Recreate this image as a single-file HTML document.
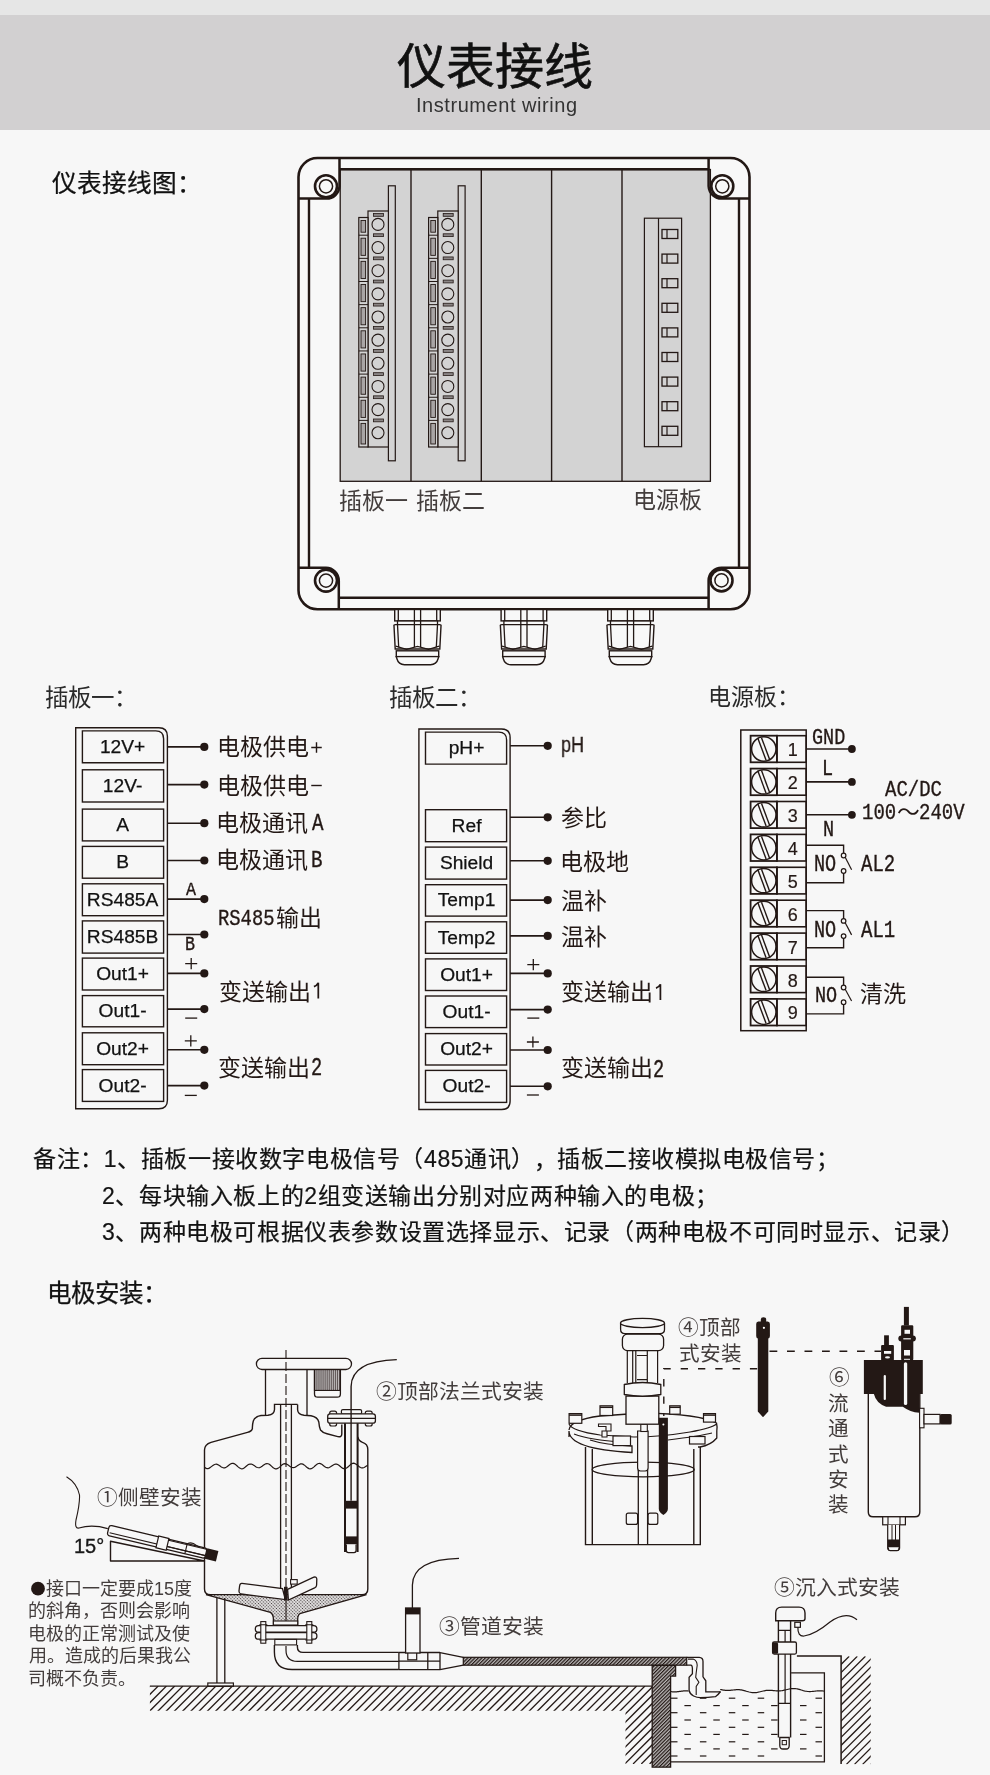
<!DOCTYPE html>
<html lang="zh-CN"><head><meta charset="utf-8"><title>仪表接线</title>
<style>
html,body{margin:0;padding:0;}
body{width:990px;height:1775px;overflow:hidden;position:relative;background:#f7f7f7;font-family:"Liberation Sans",sans-serif;}
.t{position:absolute;white-space:nowrap;line-height:1;will-change:transform;}
.c{text-align:center;}
#hd0{position:absolute;left:0;top:0;width:990px;height:15px;background:#e6e6e6;}
#hd1{position:absolute;left:0;top:15px;width:990px;height:115px;background:#d2d0d1;}
svg{position:absolute;left:0;top:0;}
</style></head><body>
<div id="hd0"></div><div id="hd1"></div>
<svg width="990" height="1775" viewBox="0 0 990 1775">
<defs>
<pattern id="dots" width="2.3" height="2.3" patternUnits="userSpaceOnUse" patternTransform="rotate(45)"><rect width="2.3" height="2.3" fill="#e4e2e2"/><circle cx="1.15" cy="1.15" r="0.66" fill="#3a3333"/></pattern>
<pattern id="phatch" width="2.5" height="2.5" patternUnits="userSpaceOnUse" patternTransform="rotate(45)"><rect width="2.5" height="2.5" fill="#b9b6b6"/><line x1="0.6" y1="0" x2="0.6" y2="2.5" stroke="#231815" stroke-width="1.2"/></pattern>
<clipPath id="cg"><path d="M149.9,1686.1 H652.2 V1763.9 H625.5 V1710.8 H149.9 Z"/></clipPath>
<clipPath id="cr"><rect x="841.1" y="1656.3" width="29.6" height="108"/></clipPath>

</defs>
<rect x="298.5" y="158" width="451" height="451.3" rx="19" fill="#f8f8f8" stroke="#231815" stroke-width="2.6"/>
<rect x="340.2" y="169.5" width="370.2" height="311.8" fill="#d3d3d3" stroke="#231815" stroke-width="1.3"/>
<line x1="411" y1="169.5" x2="411" y2="481.3" stroke="#231815" stroke-width="1.4"/>
<line x1="481.3" y1="169.5" x2="481.3" y2="481.3" stroke="#231815" stroke-width="1.4"/>
<line x1="551.6" y1="169.5" x2="551.6" y2="481.3" stroke="#231815" stroke-width="1.4"/>
<line x1="622" y1="169.5" x2="622" y2="481.3" stroke="#231815" stroke-width="1.4"/>
<line x1="339.5" y1="169.2" x2="708.5" y2="169.2" stroke="#231815" stroke-width="2.6"/>
<line x1="338.8" y1="597.8" x2="708.5" y2="597.8" stroke="#231815" stroke-width="2.6"/>
<line x1="309" y1="198.6" x2="309" y2="567.6" stroke="#231815" stroke-width="2.4"/>
<line x1="739" y1="198.6" x2="739" y2="567.6" stroke="#231815" stroke-width="2.4"/>
<path d="M339.5,158 L339.5,186.3 A13,13 0 0 1 326,198.6 L298.5,198.6" fill="none" stroke="#231815" stroke-width="2.5"/>
<circle cx="326" cy="186.3" r="11" fill="#f8f8f8" stroke="#231815" stroke-width="2.6"/>
<circle cx="326" cy="186.3" r="6.6" fill="#f8f8f8" stroke="#231815" stroke-width="1.5"/>
<path d="M708.6,158 L708.6,186.3 A13,13 0 0 0 722.3,198.6 L749.5,198.6" fill="none" stroke="#231815" stroke-width="2.5"/>
<circle cx="722.3" cy="186.3" r="11" fill="#f8f8f8" stroke="#231815" stroke-width="2.6"/>
<circle cx="722.3" cy="186.3" r="6.6" fill="#f8f8f8" stroke="#231815" stroke-width="1.5"/>
<path d="M338.8,609.3 L338.8,580.6 A13,13 0 0 0 326,567.7 L298.5,567.7" fill="none" stroke="#231815" stroke-width="2.5"/>
<circle cx="326" cy="580.6" r="11" fill="#f8f8f8" stroke="#231815" stroke-width="2.6"/>
<circle cx="326" cy="580.6" r="6.6" fill="#f8f8f8" stroke="#231815" stroke-width="1.5"/>
<path d="M708.6,609.3 L708.6,580.4 A13,13 0 0 1 721.5,567.7 L749.5,567.7" fill="none" stroke="#231815" stroke-width="2.5"/>
<circle cx="721.5" cy="580.4" r="11" fill="#f8f8f8" stroke="#231815" stroke-width="2.6"/>
<circle cx="721.5" cy="580.4" r="6.6" fill="#f8f8f8" stroke="#231815" stroke-width="1.5"/>
<rect x="388.4" y="185.8" width="6.9" height="275" fill="#d3d3d3" stroke="#231815" stroke-width="1.2"/>
<rect x="368" y="211" width="20.4" height="236" fill="#d3d3d3" stroke="#231815" stroke-width="1.2"/>
<rect x="358.8" y="217.5" width="9.2" height="229.5" fill="#d3d3d3" stroke="#231815" stroke-width="1.2"/>
<circle cx="378" cy="224.40" r="6" fill="none" stroke="#231815" stroke-width="1.1"/>
<rect x="373.4" y="213.50" width="10" height="2.8" fill="#8a8585" stroke="#231815" stroke-width="0.8"/>
<rect x="361.0" y="220.50" width="4.6" height="11.70" fill="#a9a5a5" stroke="#231815" stroke-width="0.9"/>
<circle cx="378" cy="247.55" r="6" fill="none" stroke="#231815" stroke-width="1.1"/>
<rect x="373.4" y="233.80" width="10" height="2.8" fill="#8a8585" stroke="#231815" stroke-width="0.8"/>
<line x1="358.8" y1="235.20" x2="368.0" y2="235.20" stroke="#231815" stroke-width="1"/>
<rect x="361.0" y="238.20" width="4.6" height="17.15" fill="#a9a5a5" stroke="#231815" stroke-width="0.9"/>
<circle cx="378" cy="270.70" r="6" fill="none" stroke="#231815" stroke-width="1.1"/>
<rect x="373.4" y="256.95" width="10" height="2.8" fill="#8a8585" stroke="#231815" stroke-width="0.8"/>
<line x1="358.8" y1="258.35" x2="368.0" y2="258.35" stroke="#231815" stroke-width="1"/>
<rect x="361.0" y="261.35" width="4.6" height="17.15" fill="#a9a5a5" stroke="#231815" stroke-width="0.9"/>
<circle cx="378" cy="293.85" r="6" fill="none" stroke="#231815" stroke-width="1.1"/>
<rect x="373.4" y="280.10" width="10" height="2.8" fill="#8a8585" stroke="#231815" stroke-width="0.8"/>
<line x1="358.8" y1="281.50" x2="368.0" y2="281.50" stroke="#231815" stroke-width="1"/>
<rect x="361.0" y="284.50" width="4.6" height="17.15" fill="#a9a5a5" stroke="#231815" stroke-width="0.9"/>
<circle cx="378" cy="317.00" r="6" fill="none" stroke="#231815" stroke-width="1.1"/>
<rect x="373.4" y="303.25" width="10" height="2.8" fill="#8a8585" stroke="#231815" stroke-width="0.8"/>
<line x1="358.8" y1="304.65" x2="368.0" y2="304.65" stroke="#231815" stroke-width="1"/>
<rect x="361.0" y="307.65" width="4.6" height="17.15" fill="#a9a5a5" stroke="#231815" stroke-width="0.9"/>
<circle cx="378" cy="340.15" r="6" fill="none" stroke="#231815" stroke-width="1.1"/>
<rect x="373.4" y="326.40" width="10" height="2.8" fill="#8a8585" stroke="#231815" stroke-width="0.8"/>
<line x1="358.8" y1="327.80" x2="368.0" y2="327.80" stroke="#231815" stroke-width="1"/>
<rect x="361.0" y="330.80" width="4.6" height="17.15" fill="#a9a5a5" stroke="#231815" stroke-width="0.9"/>
<circle cx="378" cy="363.30" r="6" fill="none" stroke="#231815" stroke-width="1.1"/>
<rect x="373.4" y="349.55" width="10" height="2.8" fill="#8a8585" stroke="#231815" stroke-width="0.8"/>
<line x1="358.8" y1="350.95" x2="368.0" y2="350.95" stroke="#231815" stroke-width="1"/>
<rect x="361.0" y="353.95" width="4.6" height="17.15" fill="#a9a5a5" stroke="#231815" stroke-width="0.9"/>
<circle cx="378" cy="386.45" r="6" fill="none" stroke="#231815" stroke-width="1.1"/>
<rect x="373.4" y="372.70" width="10" height="2.8" fill="#8a8585" stroke="#231815" stroke-width="0.8"/>
<line x1="358.8" y1="374.10" x2="368.0" y2="374.10" stroke="#231815" stroke-width="1"/>
<rect x="361.0" y="377.10" width="4.6" height="17.15" fill="#a9a5a5" stroke="#231815" stroke-width="0.9"/>
<circle cx="378" cy="409.60" r="6" fill="none" stroke="#231815" stroke-width="1.1"/>
<rect x="373.4" y="395.85" width="10" height="2.8" fill="#8a8585" stroke="#231815" stroke-width="0.8"/>
<line x1="358.8" y1="397.25" x2="368.0" y2="397.25" stroke="#231815" stroke-width="1"/>
<rect x="361.0" y="400.25" width="4.6" height="17.15" fill="#a9a5a5" stroke="#231815" stroke-width="0.9"/>
<circle cx="378" cy="432.75" r="6" fill="none" stroke="#231815" stroke-width="1.1"/>
<rect x="373.4" y="419.00" width="10" height="2.8" fill="#8a8585" stroke="#231815" stroke-width="0.8"/>
<line x1="358.8" y1="420.40" x2="368.0" y2="420.40" stroke="#231815" stroke-width="1"/>
<rect x="361.0" y="423.40" width="4.6" height="20.60" fill="#a9a5a5" stroke="#231815" stroke-width="0.9"/>
<rect x="458.2" y="185.8" width="6.9" height="275" fill="#d3d3d3" stroke="#231815" stroke-width="1.2"/>
<rect x="437.8" y="211" width="20.4" height="236" fill="#d3d3d3" stroke="#231815" stroke-width="1.2"/>
<rect x="428.6" y="217.5" width="9.2" height="229.5" fill="#d3d3d3" stroke="#231815" stroke-width="1.2"/>
<circle cx="447.8" cy="224.40" r="6" fill="none" stroke="#231815" stroke-width="1.1"/>
<rect x="443.2" y="213.50" width="10" height="2.8" fill="#8a8585" stroke="#231815" stroke-width="0.8"/>
<rect x="430.8" y="220.50" width="4.6" height="11.70" fill="#a9a5a5" stroke="#231815" stroke-width="0.9"/>
<circle cx="447.8" cy="247.55" r="6" fill="none" stroke="#231815" stroke-width="1.1"/>
<rect x="443.2" y="233.80" width="10" height="2.8" fill="#8a8585" stroke="#231815" stroke-width="0.8"/>
<line x1="428.6" y1="235.20" x2="437.8" y2="235.20" stroke="#231815" stroke-width="1"/>
<rect x="430.8" y="238.20" width="4.6" height="17.15" fill="#a9a5a5" stroke="#231815" stroke-width="0.9"/>
<circle cx="447.8" cy="270.70" r="6" fill="none" stroke="#231815" stroke-width="1.1"/>
<rect x="443.2" y="256.95" width="10" height="2.8" fill="#8a8585" stroke="#231815" stroke-width="0.8"/>
<line x1="428.6" y1="258.35" x2="437.8" y2="258.35" stroke="#231815" stroke-width="1"/>
<rect x="430.8" y="261.35" width="4.6" height="17.15" fill="#a9a5a5" stroke="#231815" stroke-width="0.9"/>
<circle cx="447.8" cy="293.85" r="6" fill="none" stroke="#231815" stroke-width="1.1"/>
<rect x="443.2" y="280.10" width="10" height="2.8" fill="#8a8585" stroke="#231815" stroke-width="0.8"/>
<line x1="428.6" y1="281.50" x2="437.8" y2="281.50" stroke="#231815" stroke-width="1"/>
<rect x="430.8" y="284.50" width="4.6" height="17.15" fill="#a9a5a5" stroke="#231815" stroke-width="0.9"/>
<circle cx="447.8" cy="317.00" r="6" fill="none" stroke="#231815" stroke-width="1.1"/>
<rect x="443.2" y="303.25" width="10" height="2.8" fill="#8a8585" stroke="#231815" stroke-width="0.8"/>
<line x1="428.6" y1="304.65" x2="437.8" y2="304.65" stroke="#231815" stroke-width="1"/>
<rect x="430.8" y="307.65" width="4.6" height="17.15" fill="#a9a5a5" stroke="#231815" stroke-width="0.9"/>
<circle cx="447.8" cy="340.15" r="6" fill="none" stroke="#231815" stroke-width="1.1"/>
<rect x="443.2" y="326.40" width="10" height="2.8" fill="#8a8585" stroke="#231815" stroke-width="0.8"/>
<line x1="428.6" y1="327.80" x2="437.8" y2="327.80" stroke="#231815" stroke-width="1"/>
<rect x="430.8" y="330.80" width="4.6" height="17.15" fill="#a9a5a5" stroke="#231815" stroke-width="0.9"/>
<circle cx="447.8" cy="363.30" r="6" fill="none" stroke="#231815" stroke-width="1.1"/>
<rect x="443.2" y="349.55" width="10" height="2.8" fill="#8a8585" stroke="#231815" stroke-width="0.8"/>
<line x1="428.6" y1="350.95" x2="437.8" y2="350.95" stroke="#231815" stroke-width="1"/>
<rect x="430.8" y="353.95" width="4.6" height="17.15" fill="#a9a5a5" stroke="#231815" stroke-width="0.9"/>
<circle cx="447.8" cy="386.45" r="6" fill="none" stroke="#231815" stroke-width="1.1"/>
<rect x="443.2" y="372.70" width="10" height="2.8" fill="#8a8585" stroke="#231815" stroke-width="0.8"/>
<line x1="428.6" y1="374.10" x2="437.8" y2="374.10" stroke="#231815" stroke-width="1"/>
<rect x="430.8" y="377.10" width="4.6" height="17.15" fill="#a9a5a5" stroke="#231815" stroke-width="0.9"/>
<circle cx="447.8" cy="409.60" r="6" fill="none" stroke="#231815" stroke-width="1.1"/>
<rect x="443.2" y="395.85" width="10" height="2.8" fill="#8a8585" stroke="#231815" stroke-width="0.8"/>
<line x1="428.6" y1="397.25" x2="437.8" y2="397.25" stroke="#231815" stroke-width="1"/>
<rect x="430.8" y="400.25" width="4.6" height="17.15" fill="#a9a5a5" stroke="#231815" stroke-width="0.9"/>
<circle cx="447.8" cy="432.75" r="6" fill="none" stroke="#231815" stroke-width="1.1"/>
<rect x="443.2" y="419.00" width="10" height="2.8" fill="#8a8585" stroke="#231815" stroke-width="0.8"/>
<line x1="428.6" y1="420.40" x2="437.8" y2="420.40" stroke="#231815" stroke-width="1"/>
<rect x="430.8" y="423.40" width="4.6" height="20.60" fill="#a9a5a5" stroke="#231815" stroke-width="0.9"/>
<rect x="644.4" y="218.2" width="37.2" height="228.5" fill="#d3d3d3" stroke="#231815" stroke-width="1.2"/>
<line x1="658.5" y1="218.2" x2="658.5" y2="446.7" stroke="#231815" stroke-width="1.2"/>
<rect x="662" y="229.50" width="15.8" height="9" fill="none" stroke="#231815" stroke-width="1.3"/>
<line x1="667" y1="229.50" x2="667" y2="238.50" stroke="#231815" stroke-width="1.2"/>
<rect x="662" y="254.10" width="15.8" height="9" fill="none" stroke="#231815" stroke-width="1.3"/>
<line x1="667" y1="254.10" x2="667" y2="263.10" stroke="#231815" stroke-width="1.2"/>
<rect x="662" y="278.70" width="15.8" height="9" fill="none" stroke="#231815" stroke-width="1.3"/>
<line x1="667" y1="278.70" x2="667" y2="287.70" stroke="#231815" stroke-width="1.2"/>
<rect x="662" y="303.30" width="15.8" height="9" fill="none" stroke="#231815" stroke-width="1.3"/>
<line x1="667" y1="303.30" x2="667" y2="312.30" stroke="#231815" stroke-width="1.2"/>
<rect x="662" y="327.90" width="15.8" height="9" fill="none" stroke="#231815" stroke-width="1.3"/>
<line x1="667" y1="327.90" x2="667" y2="336.90" stroke="#231815" stroke-width="1.2"/>
<rect x="662" y="352.50" width="15.8" height="9" fill="none" stroke="#231815" stroke-width="1.3"/>
<line x1="667" y1="352.50" x2="667" y2="361.50" stroke="#231815" stroke-width="1.2"/>
<rect x="662" y="377.10" width="15.8" height="9" fill="none" stroke="#231815" stroke-width="1.3"/>
<line x1="667" y1="377.10" x2="667" y2="386.10" stroke="#231815" stroke-width="1.2"/>
<rect x="662" y="401.70" width="15.8" height="9" fill="none" stroke="#231815" stroke-width="1.3"/>
<line x1="667" y1="401.70" x2="667" y2="410.70" stroke="#231815" stroke-width="1.2"/>
<rect x="662" y="426.30" width="15.8" height="9" fill="none" stroke="#231815" stroke-width="1.3"/>
<line x1="667" y1="426.30" x2="667" y2="435.30" stroke="#231815" stroke-width="1.2"/>
<rect x="394.7" y="609.5" width="45.6" height="11.4" stroke="#231815" fill="#f8f8f8" stroke-width="1.4"/>
<line x1="398.3" y1="609.5" x2="398.3" y2="621" stroke="#231815" stroke-width="1.3"/>
<line x1="414.4" y1="609.5" x2="414.4" y2="621" stroke="#231815" stroke-width="1.3"/>
<line x1="420.6" y1="609.5" x2="420.6" y2="621" stroke="#231815" stroke-width="1.3"/>
<line x1="436.7" y1="609.5" x2="436.7" y2="621" stroke="#231815" stroke-width="1.3"/>
<rect x="397.5" y="621" width="40" height="3.8" stroke="#231815" fill="#f8f8f8" stroke-width="1.3"/>
<path d="M394.0,626 Q393.5,624.6 395.5,624.6 L439.5,624.6 Q441.5,624.6 441.0,626 L439.8,649 L395.2,649 Z" stroke="#231815" fill="#f8f8f8" stroke-width="1.4"/>
<path d="M397.5,624.6 L398.7,647.5 M437.5,624.6 L436.3,647.5 M414.4,621 L414.4,647 M420.6,621 L420.6,647" stroke="#231815" stroke-width="1.3" fill="none"/>
<path d="M395.7,646.2 L406.5,649.4 L417.5,646.4 L428.5,649.4 L439.3,646.2" stroke="#231815" stroke-width="1.2" fill="none"/>
<rect x="396.3" y="650.8" width="42.4" height="5.8" stroke="#231815" fill="#f8f8f8" stroke-width="1.4"/>
<path d="M396.3,656.6 L438.7,656.6 L438.0,659 Q436.5,664.5 430.5,664.8 L404.5,664.8 Q398.5,664.5 397.0,659 Z" stroke="#231815" fill="#f8f8f8" stroke-width="1.4"/>
<rect x="501.09999999999997" y="609.5" width="45.6" height="11.4" stroke="#231815" fill="#f8f8f8" stroke-width="1.4"/>
<line x1="504.7" y1="609.5" x2="504.7" y2="621" stroke="#231815" stroke-width="1.3"/>
<line x1="520.8" y1="609.5" x2="520.8" y2="621" stroke="#231815" stroke-width="1.3"/>
<line x1="527.0" y1="609.5" x2="527.0" y2="621" stroke="#231815" stroke-width="1.3"/>
<line x1="543.1" y1="609.5" x2="543.1" y2="621" stroke="#231815" stroke-width="1.3"/>
<rect x="503.9" y="621" width="40" height="3.8" stroke="#231815" fill="#f8f8f8" stroke-width="1.3"/>
<path d="M500.4,626 Q499.9,624.6 501.9,624.6 L545.9,624.6 Q547.9,624.6 547.4,626 L546.1999999999999,649 L501.59999999999997,649 Z" stroke="#231815" fill="#f8f8f8" stroke-width="1.4"/>
<path d="M503.9,624.6 L505.09999999999997,647.5 M543.9,624.6 L542.6999999999999,647.5 M520.8,621 L520.8,647 M527.0,621 L527.0,647" stroke="#231815" stroke-width="1.3" fill="none"/>
<path d="M502.09999999999997,646.2 L512.9,649.4 L523.9,646.4 L534.9,649.4 L545.6999999999999,646.2" stroke="#231815" stroke-width="1.2" fill="none"/>
<rect x="502.7" y="650.8" width="42.4" height="5.8" stroke="#231815" fill="#f8f8f8" stroke-width="1.4"/>
<path d="M502.7,656.6 L545.1,656.6 L544.4,659 Q542.9,664.5 536.9,664.8 L510.9,664.8 Q504.9,664.5 503.4,659 Z" stroke="#231815" fill="#f8f8f8" stroke-width="1.4"/>
<rect x="607.7" y="609.5" width="45.6" height="11.4" stroke="#231815" fill="#f8f8f8" stroke-width="1.4"/>
<line x1="611.3" y1="609.5" x2="611.3" y2="621" stroke="#231815" stroke-width="1.3"/>
<line x1="627.4" y1="609.5" x2="627.4" y2="621" stroke="#231815" stroke-width="1.3"/>
<line x1="633.6" y1="609.5" x2="633.6" y2="621" stroke="#231815" stroke-width="1.3"/>
<line x1="649.7" y1="609.5" x2="649.7" y2="621" stroke="#231815" stroke-width="1.3"/>
<rect x="610.5" y="621" width="40" height="3.8" stroke="#231815" fill="#f8f8f8" stroke-width="1.3"/>
<path d="M607.0,626 Q606.5,624.6 608.5,624.6 L652.5,624.6 Q654.5,624.6 654.0,626 L652.8,649 L608.2,649 Z" stroke="#231815" fill="#f8f8f8" stroke-width="1.4"/>
<path d="M610.5,624.6 L611.7,647.5 M650.5,624.6 L649.3,647.5 M627.4,621 L627.4,647 M633.6,621 L633.6,647" stroke="#231815" stroke-width="1.3" fill="none"/>
<path d="M608.7,646.2 L619.5,649.4 L630.5,646.4 L641.5,649.4 L652.3,646.2" stroke="#231815" stroke-width="1.2" fill="none"/>
<rect x="609.3" y="650.8" width="42.4" height="5.8" stroke="#231815" fill="#f8f8f8" stroke-width="1.4"/>
<path d="M609.3,656.6 L651.7,656.6 L651.0,659 Q649.5,664.5 643.5,664.8 L617.5,664.8 Q611.5,664.5 610.0,659 Z" stroke="#231815" fill="#f8f8f8" stroke-width="1.4"/>
<path d="M75.7,727.8 L158.9,727.8 Q167.4,727.8 167.4,736.3 L167.4,1100.3 Q167.4,1108.8 158.9,1108.8 L75.7,1108.8 Z" fill="none" stroke="#231815" stroke-width="1.4"/>
<path d="M82.4,730.9 L155.79999999999998,730.9 Q163.6,730.9 163.6,738.6999999999999 L163.6,762.7 L82.4,762.7 Z" fill="none" stroke="#231815" stroke-width="1.4"/>
<rect x="82.4" y="769.8" width="81.2" height="32.2" fill="none" stroke="#231815" stroke-width="1.4"/>
<rect x="82.4" y="809.1" width="81.2" height="31.8" fill="none" stroke="#231815" stroke-width="1.4"/>
<rect x="82.4" y="846.4" width="81.2" height="31.8" fill="none" stroke="#231815" stroke-width="1.4"/>
<rect x="82.4" y="883.8" width="81.2" height="31.9" fill="none" stroke="#231815" stroke-width="1.4"/>
<rect x="82.4" y="920.9" width="81.2" height="32.2" fill="none" stroke="#231815" stroke-width="1.4"/>
<rect x="82.4" y="958.1" width="81.2" height="31.9" fill="none" stroke="#231815" stroke-width="1.4"/>
<rect x="82.4" y="995.6" width="81.2" height="31.2" fill="none" stroke="#231815" stroke-width="1.4"/>
<rect x="82.4" y="1032.8" width="81.2" height="31.9" fill="none" stroke="#231815" stroke-width="1.4"/>
<rect x="82.4" y="1069.6" width="81.2" height="31.8" fill="none" stroke="#231815" stroke-width="1.4"/>
<line x1="167.4" y1="746.9" x2="204.3" y2="746.9" stroke="#231815" stroke-width="1.6"/>
<circle cx="204.3" cy="746.9" r="4.1" fill="#231815"/>
<line x1="167.4" y1="784.6" x2="204.3" y2="784.6" stroke="#231815" stroke-width="1.6"/>
<circle cx="204.3" cy="784.6" r="4.1" fill="#231815"/>
<line x1="167.4" y1="823.2" x2="204.3" y2="823.2" stroke="#231815" stroke-width="1.6"/>
<circle cx="204.3" cy="823.2" r="4.1" fill="#231815"/>
<line x1="167.4" y1="860.5" x2="204.3" y2="860.5" stroke="#231815" stroke-width="1.6"/>
<circle cx="204.3" cy="860.5" r="4.1" fill="#231815"/>
<line x1="167.4" y1="899.1" x2="204.3" y2="899.1" stroke="#231815" stroke-width="1.6"/>
<circle cx="204.3" cy="899.1" r="4.1" fill="#231815"/>
<line x1="167.4" y1="934.5" x2="204.3" y2="934.5" stroke="#231815" stroke-width="1.6"/>
<circle cx="204.3" cy="934.5" r="4.1" fill="#231815"/>
<line x1="167.4" y1="973.4" x2="204.3" y2="973.4" stroke="#231815" stroke-width="1.6"/>
<circle cx="204.3" cy="973.4" r="4.1" fill="#231815"/>
<line x1="167.4" y1="1009.1" x2="204.3" y2="1009.1" stroke="#231815" stroke-width="1.6"/>
<circle cx="204.3" cy="1009.1" r="4.1" fill="#231815"/>
<line x1="167.4" y1="1049.8" x2="204.3" y2="1049.8" stroke="#231815" stroke-width="1.6"/>
<circle cx="204.3" cy="1049.8" r="4.1" fill="#231815"/>
<line x1="167.4" y1="1085.6" x2="204.3" y2="1085.6" stroke="#231815" stroke-width="1.6"/>
<circle cx="204.3" cy="1085.6" r="4.1" fill="#231815"/>
<path d="M418.9,729 L501.6,729 Q510.1,729 510.1,737.5 L510.1,1101.0 Q510.1,1109.5 501.6,1109.5 L418.9,1109.5 Z" fill="none" stroke="#231815" stroke-width="1.4"/>
<path d="M425.5,732.1 L498.8,732.1 Q506.6,732.1 506.6,739.9 L506.6,764.1 L425.5,764.1 Z" fill="none" stroke="#231815" stroke-width="1.4"/>
<rect x="425.5" y="809.7" width="81.1" height="32.0" fill="none" stroke="#231815" stroke-width="1.4"/>
<rect x="425.5" y="847.1" width="81.1" height="32.0" fill="none" stroke="#231815" stroke-width="1.4"/>
<rect x="425.5" y="884.7" width="81.1" height="31.4" fill="none" stroke="#231815" stroke-width="1.4"/>
<rect x="425.5" y="921.8" width="81.1" height="31.5" fill="none" stroke="#231815" stroke-width="1.4"/>
<rect x="425.5" y="958.9" width="81.1" height="31.6" fill="none" stroke="#231815" stroke-width="1.4"/>
<rect x="425.5" y="996" width="81.1" height="31.6" fill="none" stroke="#231815" stroke-width="1.4"/>
<rect x="425.5" y="1033.6" width="81.1" height="31.4" fill="none" stroke="#231815" stroke-width="1.4"/>
<rect x="425.5" y="1070.4" width="81.1" height="32.0" fill="none" stroke="#231815" stroke-width="1.4"/>
<line x1="510.1" y1="745.8" x2="547.7" y2="745.8" stroke="#231815" stroke-width="1.6"/>
<circle cx="547.7" cy="745.8" r="4.1" fill="#231815"/>
<line x1="510.1" y1="817.3" x2="547.7" y2="817.3" stroke="#231815" stroke-width="1.6"/>
<circle cx="547.7" cy="817.3" r="4.1" fill="#231815"/>
<line x1="510.1" y1="860.8" x2="547.7" y2="860.8" stroke="#231815" stroke-width="1.6"/>
<circle cx="547.7" cy="860.8" r="4.1" fill="#231815"/>
<line x1="510.1" y1="900.1" x2="547.7" y2="900.1" stroke="#231815" stroke-width="1.6"/>
<circle cx="547.7" cy="900.1" r="4.1" fill="#231815"/>
<line x1="510.1" y1="935.9" x2="547.7" y2="935.9" stroke="#231815" stroke-width="1.6"/>
<circle cx="547.7" cy="935.9" r="4.1" fill="#231815"/>
<line x1="510.1" y1="973.4" x2="547.7" y2="973.4" stroke="#231815" stroke-width="1.6"/>
<circle cx="547.7" cy="973.4" r="4.1" fill="#231815"/>
<line x1="510.1" y1="1009.6" x2="547.7" y2="1009.6" stroke="#231815" stroke-width="1.6"/>
<circle cx="547.7" cy="1009.6" r="4.1" fill="#231815"/>
<line x1="510.1" y1="1050" x2="547.7" y2="1050" stroke="#231815" stroke-width="1.6"/>
<circle cx="547.7" cy="1050" r="4.1" fill="#231815"/>
<line x1="510.1" y1="1086.3" x2="547.7" y2="1086.3" stroke="#231815" stroke-width="1.6"/>
<circle cx="547.7" cy="1086.3" r="4.1" fill="#231815"/>
<path d="M318.3,998.6 V982.8 Q316.8,985.6 313.9,986.6" fill="none" stroke="#231815" stroke-width="1.75"/>
<path d="M311.25,747.5 H321.75 M316.5,742.25 V752.75" stroke="#231815" stroke-width="1.4" fill="none"/>
<path d="M311.25,785.5 H321.75" stroke="#231815" stroke-width="1.4" fill="none"/>
<path d="M185.2,963.6 H197.2 M191.2,958.0 V969.2" stroke="#231815" stroke-width="1.3" fill="none"/>
<path d="M185.2,1018.1 H197.2" stroke="#231815" stroke-width="1.3" fill="none"/>
<path d="M184.79999999999998,1040.9 H196.79999999999998 M190.79999999999998,1035.3000000000002 V1046.5" stroke="#231815" stroke-width="1.3" fill="none"/>
<path d="M184.79999999999998,1095.4 H196.79999999999998" stroke="#231815" stroke-width="1.3" fill="none"/>
<path d="M527.3,964.6 H539.3 M533.3,959.0 V970.2" stroke="#231815" stroke-width="1.3" fill="none"/>
<path d="M527.3,1018.1 H539.3" stroke="#231815" stroke-width="1.3" fill="none"/>
<path d="M526.9,1042 H538.9 M532.9,1036.4 V1047.6" stroke="#231815" stroke-width="1.3" fill="none"/>
<path d="M526.9,1095 H538.9" stroke="#231815" stroke-width="1.3" fill="none"/>
<path d="M660.4,1000.1 V984.3 Q658.9,987.1 656,988.1" fill="none" stroke="#231815" stroke-width="1.75"/>
<rect x="740.8" y="730" width="65.4" height="300.7" fill="none" stroke="#231815" stroke-width="1.5"/>
<rect x="750.6" y="735.70" width="26.3" height="26.6" fill="none" stroke="#231815" stroke-width="1.8"/>
<rect x="776.9" y="735.70" width="29.3" height="26.6" fill="none" stroke="#231815" stroke-width="1.6"/>
<circle cx="763.8" cy="749.00" r="12.2" fill="none" stroke="#231815" stroke-width="1.5"/>
<line x1="757.70" y1="737.70" x2="766.10" y2="760.30" stroke="#231815" stroke-width="1.4"/>
<line x1="761.50" y1="737.70" x2="769.90" y2="760.30" stroke="#231815" stroke-width="1.4"/>
<rect x="750.6" y="768.60" width="26.3" height="26.6" fill="none" stroke="#231815" stroke-width="1.8"/>
<rect x="776.9" y="768.60" width="29.3" height="26.6" fill="none" stroke="#231815" stroke-width="1.6"/>
<circle cx="763.8" cy="781.90" r="12.2" fill="none" stroke="#231815" stroke-width="1.5"/>
<line x1="757.70" y1="770.60" x2="766.10" y2="793.20" stroke="#231815" stroke-width="1.4"/>
<line x1="761.50" y1="770.60" x2="769.90" y2="793.20" stroke="#231815" stroke-width="1.4"/>
<rect x="750.6" y="801.50" width="26.3" height="26.6" fill="none" stroke="#231815" stroke-width="1.8"/>
<rect x="776.9" y="801.50" width="29.3" height="26.6" fill="none" stroke="#231815" stroke-width="1.6"/>
<circle cx="763.8" cy="814.80" r="12.2" fill="none" stroke="#231815" stroke-width="1.5"/>
<line x1="757.70" y1="803.50" x2="766.10" y2="826.10" stroke="#231815" stroke-width="1.4"/>
<line x1="761.50" y1="803.50" x2="769.90" y2="826.10" stroke="#231815" stroke-width="1.4"/>
<rect x="750.6" y="834.40" width="26.3" height="26.6" fill="none" stroke="#231815" stroke-width="1.8"/>
<rect x="776.9" y="834.40" width="29.3" height="26.6" fill="none" stroke="#231815" stroke-width="1.6"/>
<circle cx="763.8" cy="847.70" r="12.2" fill="none" stroke="#231815" stroke-width="1.5"/>
<line x1="757.70" y1="836.40" x2="766.10" y2="859.00" stroke="#231815" stroke-width="1.4"/>
<line x1="761.50" y1="836.40" x2="769.90" y2="859.00" stroke="#231815" stroke-width="1.4"/>
<rect x="750.6" y="867.30" width="26.3" height="26.6" fill="none" stroke="#231815" stroke-width="1.8"/>
<rect x="776.9" y="867.30" width="29.3" height="26.6" fill="none" stroke="#231815" stroke-width="1.6"/>
<circle cx="763.8" cy="880.60" r="12.2" fill="none" stroke="#231815" stroke-width="1.5"/>
<line x1="757.70" y1="869.30" x2="766.10" y2="891.90" stroke="#231815" stroke-width="1.4"/>
<line x1="761.50" y1="869.30" x2="769.90" y2="891.90" stroke="#231815" stroke-width="1.4"/>
<rect x="750.6" y="900.20" width="26.3" height="26.6" fill="none" stroke="#231815" stroke-width="1.8"/>
<rect x="776.9" y="900.20" width="29.3" height="26.6" fill="none" stroke="#231815" stroke-width="1.6"/>
<circle cx="763.8" cy="913.50" r="12.2" fill="none" stroke="#231815" stroke-width="1.5"/>
<line x1="757.70" y1="902.20" x2="766.10" y2="924.80" stroke="#231815" stroke-width="1.4"/>
<line x1="761.50" y1="902.20" x2="769.90" y2="924.80" stroke="#231815" stroke-width="1.4"/>
<rect x="750.6" y="933.10" width="26.3" height="26.6" fill="none" stroke="#231815" stroke-width="1.8"/>
<rect x="776.9" y="933.10" width="29.3" height="26.6" fill="none" stroke="#231815" stroke-width="1.6"/>
<circle cx="763.8" cy="946.40" r="12.2" fill="none" stroke="#231815" stroke-width="1.5"/>
<line x1="757.70" y1="935.10" x2="766.10" y2="957.70" stroke="#231815" stroke-width="1.4"/>
<line x1="761.50" y1="935.10" x2="769.90" y2="957.70" stroke="#231815" stroke-width="1.4"/>
<rect x="750.6" y="966.00" width="26.3" height="26.6" fill="none" stroke="#231815" stroke-width="1.8"/>
<rect x="776.9" y="966.00" width="29.3" height="26.6" fill="none" stroke="#231815" stroke-width="1.6"/>
<circle cx="763.8" cy="979.30" r="12.2" fill="none" stroke="#231815" stroke-width="1.5"/>
<line x1="757.70" y1="968.00" x2="766.10" y2="990.60" stroke="#231815" stroke-width="1.4"/>
<line x1="761.50" y1="968.00" x2="769.90" y2="990.60" stroke="#231815" stroke-width="1.4"/>
<rect x="750.6" y="998.90" width="26.3" height="26.6" fill="none" stroke="#231815" stroke-width="1.8"/>
<rect x="776.9" y="998.90" width="29.3" height="26.6" fill="none" stroke="#231815" stroke-width="1.6"/>
<circle cx="763.8" cy="1012.20" r="12.2" fill="none" stroke="#231815" stroke-width="1.5"/>
<line x1="757.70" y1="1000.90" x2="766.10" y2="1023.50" stroke="#231815" stroke-width="1.4"/>
<line x1="761.50" y1="1000.90" x2="769.90" y2="1023.50" stroke="#231815" stroke-width="1.4"/>
<line x1="806.2" y1="749.0" x2="851.9" y2="749.0" stroke="#231815" stroke-width="1.6"/>
<circle cx="851.9" cy="749.0" r="3.9" fill="#231815"/>
<line x1="806.2" y1="781.9" x2="851.9" y2="781.9" stroke="#231815" stroke-width="1.6"/>
<circle cx="851.9" cy="781.9" r="3.9" fill="#231815"/>
<line x1="806.2" y1="814.8" x2="851.9" y2="814.8" stroke="#231815" stroke-width="1.6"/>
<circle cx="851.9" cy="814.8" r="3.9" fill="#231815"/>
<path d="M806.2,845.2 H843.6 V853.30" fill="none" stroke="#231815" stroke-width="1.4"/>
<path d="M806.2,882.7 H843.6 V873.20" fill="none" stroke="#231815" stroke-width="1.4"/>
<circle cx="843.6" cy="855.50" r="2.3" fill="none" stroke="#231815" stroke-width="1.2"/>
<circle cx="843.6" cy="871.00" r="2.3" fill="none" stroke="#231815" stroke-width="1.2"/>
<line x1="845.2" y1="857.30" x2="851.6" y2="869.80" stroke="#231815" stroke-width="1.2"/>
<path d="M806.2,910.6 H843.6 V918.70" fill="none" stroke="#231815" stroke-width="1.4"/>
<path d="M806.2,947.8 H843.6 V938.30" fill="none" stroke="#231815" stroke-width="1.4"/>
<circle cx="843.6" cy="920.90" r="2.3" fill="none" stroke="#231815" stroke-width="1.2"/>
<circle cx="843.6" cy="936.10" r="2.3" fill="none" stroke="#231815" stroke-width="1.2"/>
<line x1="845.2" y1="922.70" x2="851.6" y2="934.90" stroke="#231815" stroke-width="1.2"/>
<path d="M806.2,977.2 H843.6 V985.30" fill="none" stroke="#231815" stroke-width="1.4"/>
<path d="M806.2,1013.9 H843.6 V1004.40" fill="none" stroke="#231815" stroke-width="1.4"/>
<circle cx="843.6" cy="987.50" r="2.3" fill="none" stroke="#231815" stroke-width="1.2"/>
<circle cx="843.6" cy="1002.20" r="2.3" fill="none" stroke="#231815" stroke-width="1.2"/>
<line x1="845.2" y1="989.30" x2="851.6" y2="1001.00" stroke="#231815" stroke-width="1.2"/>
<rect x="256.4" y="1358.3" width="95.1" height="11.2" rx="5.6" fill="#f7f7f7" stroke="#231815" stroke-width="1.3"/>
<path d="M265.5,1369.6 V1415.3 M307,1369.6 V1415.3" stroke="#231815" fill="none" stroke-width="1.3"/>
<path d="M314.5,1369.6 H340.4 V1394 Q340.4,1397.2 337.2,1397.2 H317.7 Q314.5,1397.2 314.5,1394 Z" fill="#f7f7f7" stroke="#231815" stroke-width="1.3"/>
<rect x="314.5" y="1369.6" width="25.9" height="20.8" fill="#5a5050" stroke="#231815" stroke-width="1.2"/>
<line x1="315.90" y1="1370.2" x2="315.90" y2="1389.9" stroke="#f0f0f0" stroke-width="0.7"/>
<line x1="317.95" y1="1370.2" x2="317.95" y2="1389.9" stroke="#f0f0f0" stroke-width="0.7"/>
<line x1="320.00" y1="1370.2" x2="320.00" y2="1389.9" stroke="#f0f0f0" stroke-width="0.7"/>
<line x1="322.05" y1="1370.2" x2="322.05" y2="1389.9" stroke="#f0f0f0" stroke-width="0.7"/>
<line x1="324.10" y1="1370.2" x2="324.10" y2="1389.9" stroke="#f0f0f0" stroke-width="0.7"/>
<line x1="326.15" y1="1370.2" x2="326.15" y2="1389.9" stroke="#f0f0f0" stroke-width="0.7"/>
<line x1="328.20" y1="1370.2" x2="328.20" y2="1389.9" stroke="#f0f0f0" stroke-width="0.7"/>
<line x1="330.25" y1="1370.2" x2="330.25" y2="1389.9" stroke="#f0f0f0" stroke-width="0.7"/>
<line x1="332.30" y1="1370.2" x2="332.30" y2="1389.9" stroke="#f0f0f0" stroke-width="0.7"/>
<line x1="334.35" y1="1370.2" x2="334.35" y2="1389.9" stroke="#f0f0f0" stroke-width="0.7"/>
<line x1="336.40" y1="1370.2" x2="336.40" y2="1389.9" stroke="#f0f0f0" stroke-width="0.7"/>
<line x1="338.45" y1="1370.2" x2="338.45" y2="1389.9" stroke="#f0f0f0" stroke-width="0.7"/>
<path d="M297.6,1404.4 H274.5 V1409.5 Q274.3,1414.5 268,1415.2 L261,1415.5 Q255,1416.4 253.3,1421 Q252.2,1425 252.4,1428.5 Q251.8,1431.4 247.5,1432.4 L211,1442.3 Q204.5,1444.3 204.5,1450 V1589 Q204.5,1594.7 210.5,1594.7 H362 Q367.8,1594.7 367.8,1589 V1449.5 Q367.8,1444 362.5,1442.4 Q358.3,1440.5 357.8,1436.8" stroke="#231815" fill="none" stroke-width="1.4"/>
<path d="M297.6,1404.4 V1409.8 Q297.8,1414.6 304,1415.3 L311,1415.8 Q317.5,1417 318.8,1422 Q319.2,1427 320.5,1430 Q322.5,1432.6 327,1433.8 L337.8,1436.6 Q341.8,1437.3 341.8,1434 V1424.5" stroke="#231815" fill="none" stroke-width="1.4"/>
<polyline points="204.5,1467.30 205.7,1468.12 206.9,1468.56 208.1,1468.55 209.3,1468.12 210.5,1467.34 211.7,1466.39 212.9,1465.44 214.1,1464.68 215.3,1464.24 216.5,1464.21 217.7,1464.57 218.9,1465.24 220.1,1466.09 221.3,1466.92 222.5,1467.56 223.7,1467.88 224.9,1467.80 226.1,1467.32 227.3,1466.51 228.5,1465.53 229.7,1464.56 230.9,1463.78 232.1,1463.35 233.3,1463.36 234.5,1463.82 235.7,1464.66 236.9,1465.74 238.1,1466.88 239.3,1467.87 240.5,1468.55 241.7,1468.81 242.9,1468.60 244.1,1467.97 245.3,1467.06 246.5,1466.02 247.7,1465.06 248.9,1464.33 250.1,1463.98 251.3,1464.04 252.5,1464.50 253.7,1465.24 254.9,1466.11 256.1,1466.92 257.3,1467.50 258.5,1467.74 259.7,1467.57 260.9,1467.03 262.1,1466.21 263.3,1465.28 264.5,1464.41 265.7,1463.79 266.9,1463.54 268.1,1463.73 269.3,1464.34 270.5,1465.28 271.7,1466.38 272.9,1467.46 274.1,1468.32 275.3,1468.81 276.5,1468.85 277.7,1468.44 278.9,1467.63 280.1,1466.60 281.3,1465.51 282.5,1464.56 283.7,1463.92 284.9,1463.68 286.1,1463.88 287.3,1464.46 288.5,1465.29 289.7,1466.19 290.9,1467.00 292.1,1467.53 293.3,1467.70 294.5,1467.47 295.7,1466.88 296.9,1466.06 298.1,1465.18 299.3,1464.41 300.5,1463.92 301.7,1463.83 302.9,1464.16 304.1,1464.87 305.3,1465.85 306.5,1466.92 307.7,1467.89 308.9,1468.58 310.1,1468.87 311.3,1468.69 312.5,1468.07 313.7,1467.12 314.9,1466.00 316.1,1464.91 317.3,1464.03 318.5,1463.52 319.7,1463.45 320.9,1463.81 322.1,1464.53 323.3,1465.46 324.5,1466.41 325.7,1467.20 326.9,1467.69 328.1,1467.79 329.3,1467.48 330.5,1466.85 331.7,1466.02 332.9,1465.17 334.1,1464.48 335.3,1464.11 336.5,1464.13 337.7,1464.56 338.9,1465.32 340.1,1466.30 341.3,1467.29 342.5,1468.12 343.7,1468.63 344.9,1468.70 346.1,1468.32 347.3,1467.54 348.5,1466.49 349.7,1465.35 350.9,1464.32 352.1,1463.57 353.3,1463.23 354.5,1463.35 355.7,1463.90 356.9,1464.77 358.1,1465.79 359.3,1466.77 360.5,1467.54 361.7,1467.95 362.9,1467.96 364.1,1467.56 365.3,1466.86 366.5,1466.00 367.7,1465.17" stroke="#231815" fill="none" stroke-width="1.2"/>
<path d="M280.6,1404.4 V1590 M291.4,1404.4 V1590" stroke="#231815" fill="none" stroke-width="1.3"/>
<line x1="286" y1="1350" x2="286" y2="1640" stroke="#231815" stroke-width="1.1" stroke-dasharray="9,3"/>
<rect x="290.6" y="1579.6" width="6.6" height="4.5" fill="#f7f7f7" stroke="#231815" stroke-width="1.1"/>
<path d="M206,1594.7 L270.4,1612.4 Q273.4,1614.5 273.4,1619 V1625 H297.7 V1619.5 Q297.7,1614.2 300.7,1613.4 L366.5,1594.7 Z" fill="url(#dots)" stroke="#231815" stroke-width="1.3"/>
<line x1="286" y1="1594.7" x2="286" y2="1634" stroke="#231815" stroke-width="1.1"/>
<path d="M242,1583.4 L282.5,1588.6 L285.3,1599.6 L241,1594 Q238.8,1593.3 239,1590.8 L239.6,1586 Q240,1583.2 242,1583.4 Z" fill="#f7f7f7" stroke="#231815" stroke-width="1.3"/>
<path d="M287.6,1589.4 L313.8,1577.2 Q316.6,1576.4 316.8,1579 L316.6,1585.2 Q316.4,1587 314.6,1587.9 L288.4,1600 Z" fill="#f7f7f7" stroke="#231815" stroke-width="1.3"/>
<rect x="284" y="1586.8" width="3.6" height="13.5" fill="#231815"/>
<rect x="273.4" y="1621" width="24.3" height="4" fill="#f7f7f7" stroke="#231815" stroke-width="1.1"/>
<rect x="255.3" y="1625.6" width="61.6" height="6.6" rx="3.3" fill="#f7f7f7" stroke="#231815" stroke-width="1.3"/>
<rect x="255.3" y="1632.6" width="61.6" height="6.6" rx="3.3" fill="#f7f7f7" stroke="#231815" stroke-width="1.3"/>
<rect x="260.8" y="1621.6" width="5" height="21.6" fill="#f7f7f7" stroke="#231815" stroke-width="1.1"/>
<path d="M259.3,1624.8 H267.3 M259.3,1640 H267.3" stroke="#231815" fill="none" stroke-width="1.1"/>
<rect x="306.8" y="1621.6" width="5" height="21.6" fill="#f7f7f7" stroke="#231815" stroke-width="1.1"/>
<path d="M305.3,1624.8 H313.3 M305.3,1640 H313.3" stroke="#231815" fill="none" stroke-width="1.1"/>
<rect x="274.8" y="1639.4" width="21.8" height="5.5" fill="#f7f7f7" stroke="#231815" stroke-width="1.1"/>
<path d="M274.4,1645 V1652 Q274.4,1669.5 292,1669.5 H398.9" stroke="#231815" fill="none" stroke-width="1.4"/>
<path d="M286,1646 V1650 Q286,1661.4 297.4,1661.4 H398.9" stroke="#231815" fill="none" stroke-width="1.2"/>
<path d="M297.4,1645 V1647 Q297.4,1652.4 303,1652.4 H398.9" stroke="#231815" fill="none" stroke-width="1.4"/>
<path d="M216.9,1598 V1683.5 M224.8,1598 V1683.5" stroke="#231815" fill="none" stroke-width="1.3"/>
<rect x="207.8" y="1683" width="25.6" height="3.3" fill="#f7f7f7" stroke="#231815" stroke-width="1.2"/>
<path d="M345,1423 V1552 M357.6,1423 V1552" stroke="#231815" fill="none" stroke-width="2"/>
<rect x="345" y="1500.8" width="12.6" height="7.8" fill="#231815"/>
<rect x="345" y="1536.4" width="12.6" height="8" fill="#231815"/>
<path d="M346.3,1544.4 V1550.5 Q346.3,1552.6 348.4,1552.6 H354 Q356.1,1552.6 356.1,1550.5 V1544.4" fill="#f7f7f7" stroke="#231815" stroke-width="1.3"/>
<rect x="341.4" y="1409.6" width="20.2" height="4.4" rx="1.5" fill="#f7f7f7" stroke="#231815" stroke-width="1.2"/>
<rect x="329.7" y="1411.2" width="6.9" height="14.8" rx="2" fill="#f7f7f7" stroke="#231815" stroke-width="1.2"/>
<rect x="365.3" y="1411.2" width="6.9" height="14.8" rx="2" fill="#f7f7f7" stroke="#231815" stroke-width="1.2"/>
<rect x="327.7" y="1413.8" width="47.7" height="9.4" rx="2.5" fill="#f7f7f7" stroke="#231815" stroke-width="1.3"/>
<line x1="327.7" y1="1418.4" x2="375.4" y2="1418.4" stroke="#231815" stroke-width="1.2"/>
<path d="M351.1,1500.8 V1386.4 Q351.5,1361 396.8,1359.6" stroke="#231815" fill="none" stroke-width="1.4"/>
<g clip-path="url(#cg)">
<line x1="72.1" y1="1763.9" x2="149.9" y2="1686.1" stroke="#231815" stroke-width="1.35"/>
<line x1="80.3" y1="1763.9" x2="158.2" y2="1686.1" stroke="#231815" stroke-width="1.35"/>
<line x1="88.6" y1="1763.9" x2="166.4" y2="1686.1" stroke="#231815" stroke-width="1.35"/>
<line x1="96.8" y1="1763.9" x2="174.7" y2="1686.1" stroke="#231815" stroke-width="1.35"/>
<line x1="105.1" y1="1763.9" x2="182.9" y2="1686.1" stroke="#231815" stroke-width="1.35"/>
<line x1="113.3" y1="1763.9" x2="191.2" y2="1686.1" stroke="#231815" stroke-width="1.35"/>
<line x1="121.6" y1="1763.9" x2="199.4" y2="1686.1" stroke="#231815" stroke-width="1.35"/>
<line x1="129.8" y1="1763.9" x2="207.7" y2="1686.1" stroke="#231815" stroke-width="1.35"/>
<line x1="138.1" y1="1763.9" x2="215.9" y2="1686.1" stroke="#231815" stroke-width="1.35"/>
<line x1="146.3" y1="1763.9" x2="224.2" y2="1686.1" stroke="#231815" stroke-width="1.35"/>
<line x1="154.6" y1="1763.9" x2="232.4" y2="1686.1" stroke="#231815" stroke-width="1.35"/>
<line x1="162.8" y1="1763.9" x2="240.7" y2="1686.1" stroke="#231815" stroke-width="1.35"/>
<line x1="171.1" y1="1763.9" x2="248.9" y2="1686.1" stroke="#231815" stroke-width="1.35"/>
<line x1="179.3" y1="1763.9" x2="257.2" y2="1686.1" stroke="#231815" stroke-width="1.35"/>
<line x1="187.6" y1="1763.9" x2="265.4" y2="1686.1" stroke="#231815" stroke-width="1.35"/>
<line x1="195.8" y1="1763.9" x2="273.7" y2="1686.1" stroke="#231815" stroke-width="1.35"/>
<line x1="204.1" y1="1763.9" x2="281.9" y2="1686.1" stroke="#231815" stroke-width="1.35"/>
<line x1="212.3" y1="1763.9" x2="290.2" y2="1686.1" stroke="#231815" stroke-width="1.35"/>
<line x1="220.6" y1="1763.9" x2="298.4" y2="1686.1" stroke="#231815" stroke-width="1.35"/>
<line x1="228.8" y1="1763.9" x2="306.7" y2="1686.1" stroke="#231815" stroke-width="1.35"/>
<line x1="237.1" y1="1763.9" x2="314.9" y2="1686.1" stroke="#231815" stroke-width="1.35"/>
<line x1="245.3" y1="1763.9" x2="323.2" y2="1686.1" stroke="#231815" stroke-width="1.35"/>
<line x1="253.6" y1="1763.9" x2="331.4" y2="1686.1" stroke="#231815" stroke-width="1.35"/>
<line x1="261.8" y1="1763.9" x2="339.7" y2="1686.1" stroke="#231815" stroke-width="1.35"/>
<line x1="270.1" y1="1763.9" x2="347.9" y2="1686.1" stroke="#231815" stroke-width="1.35"/>
<line x1="278.3" y1="1763.9" x2="356.2" y2="1686.1" stroke="#231815" stroke-width="1.35"/>
<line x1="286.6" y1="1763.9" x2="364.4" y2="1686.1" stroke="#231815" stroke-width="1.35"/>
<line x1="294.8" y1="1763.9" x2="372.7" y2="1686.1" stroke="#231815" stroke-width="1.35"/>
<line x1="303.1" y1="1763.9" x2="380.9" y2="1686.1" stroke="#231815" stroke-width="1.35"/>
<line x1="311.3" y1="1763.9" x2="389.2" y2="1686.1" stroke="#231815" stroke-width="1.35"/>
<line x1="319.6" y1="1763.9" x2="397.4" y2="1686.1" stroke="#231815" stroke-width="1.35"/>
<line x1="327.8" y1="1763.9" x2="405.7" y2="1686.1" stroke="#231815" stroke-width="1.35"/>
<line x1="336.1" y1="1763.9" x2="413.9" y2="1686.1" stroke="#231815" stroke-width="1.35"/>
<line x1="344.3" y1="1763.9" x2="422.2" y2="1686.1" stroke="#231815" stroke-width="1.35"/>
<line x1="352.6" y1="1763.9" x2="430.4" y2="1686.1" stroke="#231815" stroke-width="1.35"/>
<line x1="360.8" y1="1763.9" x2="438.7" y2="1686.1" stroke="#231815" stroke-width="1.35"/>
<line x1="369.1" y1="1763.9" x2="446.9" y2="1686.1" stroke="#231815" stroke-width="1.35"/>
<line x1="377.3" y1="1763.9" x2="455.2" y2="1686.1" stroke="#231815" stroke-width="1.35"/>
<line x1="385.6" y1="1763.9" x2="463.4" y2="1686.1" stroke="#231815" stroke-width="1.35"/>
<line x1="393.8" y1="1763.9" x2="471.7" y2="1686.1" stroke="#231815" stroke-width="1.35"/>
<line x1="402.1" y1="1763.9" x2="479.9" y2="1686.1" stroke="#231815" stroke-width="1.35"/>
<line x1="410.3" y1="1763.9" x2="488.2" y2="1686.1" stroke="#231815" stroke-width="1.35"/>
<line x1="418.6" y1="1763.9" x2="496.4" y2="1686.1" stroke="#231815" stroke-width="1.35"/>
<line x1="426.8" y1="1763.9" x2="504.7" y2="1686.1" stroke="#231815" stroke-width="1.35"/>
<line x1="435.1" y1="1763.9" x2="512.9" y2="1686.1" stroke="#231815" stroke-width="1.35"/>
<line x1="443.3" y1="1763.9" x2="521.2" y2="1686.1" stroke="#231815" stroke-width="1.35"/>
<line x1="451.6" y1="1763.9" x2="529.4" y2="1686.1" stroke="#231815" stroke-width="1.35"/>
<line x1="459.8" y1="1763.9" x2="537.7" y2="1686.1" stroke="#231815" stroke-width="1.35"/>
<line x1="468.1" y1="1763.9" x2="545.9" y2="1686.1" stroke="#231815" stroke-width="1.35"/>
<line x1="476.3" y1="1763.9" x2="554.2" y2="1686.1" stroke="#231815" stroke-width="1.35"/>
<line x1="484.6" y1="1763.9" x2="562.4" y2="1686.1" stroke="#231815" stroke-width="1.35"/>
<line x1="492.8" y1="1763.9" x2="570.7" y2="1686.1" stroke="#231815" stroke-width="1.35"/>
<line x1="501.1" y1="1763.9" x2="578.9" y2="1686.1" stroke="#231815" stroke-width="1.35"/>
<line x1="509.3" y1="1763.9" x2="587.2" y2="1686.1" stroke="#231815" stroke-width="1.35"/>
<line x1="517.6" y1="1763.9" x2="595.4" y2="1686.1" stroke="#231815" stroke-width="1.35"/>
<line x1="525.8" y1="1763.9" x2="603.7" y2="1686.1" stroke="#231815" stroke-width="1.35"/>
<line x1="534.1" y1="1763.9" x2="611.9" y2="1686.1" stroke="#231815" stroke-width="1.35"/>
<line x1="542.3" y1="1763.9" x2="620.2" y2="1686.1" stroke="#231815" stroke-width="1.35"/>
<line x1="550.6" y1="1763.9" x2="628.4" y2="1686.1" stroke="#231815" stroke-width="1.35"/>
<line x1="558.8" y1="1763.9" x2="636.7" y2="1686.1" stroke="#231815" stroke-width="1.35"/>
<line x1="567.1" y1="1763.9" x2="644.9" y2="1686.1" stroke="#231815" stroke-width="1.35"/>
<line x1="575.3" y1="1763.9" x2="653.2" y2="1686.1" stroke="#231815" stroke-width="1.35"/>
<line x1="583.6" y1="1763.9" x2="661.4" y2="1686.1" stroke="#231815" stroke-width="1.35"/>
<line x1="591.8" y1="1763.9" x2="669.7" y2="1686.1" stroke="#231815" stroke-width="1.35"/>
<line x1="600.1" y1="1763.9" x2="677.9" y2="1686.1" stroke="#231815" stroke-width="1.35"/>
<line x1="608.3" y1="1763.9" x2="686.2" y2="1686.1" stroke="#231815" stroke-width="1.35"/>
<line x1="616.6" y1="1763.9" x2="694.4" y2="1686.1" stroke="#231815" stroke-width="1.35"/>
<line x1="624.8" y1="1763.9" x2="702.7" y2="1686.1" stroke="#231815" stroke-width="1.35"/>
<line x1="633.1" y1="1763.9" x2="710.9" y2="1686.1" stroke="#231815" stroke-width="1.35"/>
<line x1="641.3" y1="1763.9" x2="719.2" y2="1686.1" stroke="#231815" stroke-width="1.35"/>
<line x1="649.6" y1="1763.9" x2="727.4" y2="1686.1" stroke="#231815" stroke-width="1.35"/>
<line x1="657.8" y1="1763.9" x2="735.7" y2="1686.1" stroke="#231815" stroke-width="1.35"/>
</g>
<line x1="149.9" y1="1686.1" x2="652.2" y2="1686.1" stroke="#231815" stroke-width="1.4"/>
<g clip-path="url(#cr)">
<line x1="733.0" y1="1764.4" x2="841.1" y2="1656.3" stroke="#231815" stroke-width="1.3"/>
<line x1="741.1" y1="1764.4" x2="849.2" y2="1656.3" stroke="#231815" stroke-width="1.3"/>
<line x1="749.2" y1="1764.4" x2="857.3" y2="1656.3" stroke="#231815" stroke-width="1.3"/>
<line x1="757.3" y1="1764.4" x2="865.4" y2="1656.3" stroke="#231815" stroke-width="1.3"/>
<line x1="765.4" y1="1764.4" x2="873.5" y2="1656.3" stroke="#231815" stroke-width="1.3"/>
<line x1="773.5" y1="1764.4" x2="881.6" y2="1656.3" stroke="#231815" stroke-width="1.3"/>
<line x1="781.6" y1="1764.4" x2="889.7" y2="1656.3" stroke="#231815" stroke-width="1.3"/>
<line x1="789.7" y1="1764.4" x2="897.8" y2="1656.3" stroke="#231815" stroke-width="1.3"/>
<line x1="797.8" y1="1764.4" x2="905.9" y2="1656.3" stroke="#231815" stroke-width="1.3"/>
<line x1="805.9" y1="1764.4" x2="914.0" y2="1656.3" stroke="#231815" stroke-width="1.3"/>
<line x1="814.0" y1="1764.4" x2="922.1" y2="1656.3" stroke="#231815" stroke-width="1.3"/>
<line x1="822.1" y1="1764.4" x2="930.2" y2="1656.3" stroke="#231815" stroke-width="1.3"/>
<line x1="830.2" y1="1764.4" x2="938.3" y2="1656.3" stroke="#231815" stroke-width="1.3"/>
<line x1="838.3" y1="1764.4" x2="946.4" y2="1656.3" stroke="#231815" stroke-width="1.3"/>
<line x1="846.4" y1="1764.4" x2="954.5" y2="1656.3" stroke="#231815" stroke-width="1.3"/>
<line x1="854.5" y1="1764.4" x2="962.6" y2="1656.3" stroke="#231815" stroke-width="1.3"/>
<line x1="862.6" y1="1764.4" x2="970.7" y2="1656.3" stroke="#231815" stroke-width="1.3"/>
<line x1="870.7" y1="1764.4" x2="978.8" y2="1656.3" stroke="#231815" stroke-width="1.3"/>
<line x1="878.8" y1="1764.4" x2="986.9" y2="1656.3" stroke="#231815" stroke-width="1.3"/>
</g>
<path d="M398.9,1652.5 H440 M398.9,1669.6 H440 M398.9,1652.5 V1669.6 M427.8,1652.5 V1669.6 M440,1652.5 V1669.6 M398.9,1661.2 H440" stroke="#231815" fill="none" stroke-width="1.3"/>
<path d="M440,1652.6 L463.3,1657.3 M440,1669.6 L463.3,1665.2" stroke="#231815" fill="none" stroke-width="1.3"/>
<rect x="463.3" y="1657.3" width="223.4" height="7.9" fill="url(#phatch)" stroke="#231815" stroke-width="1.2"/>
<rect x="407.8" y="1652" width="8.9" height="7.8" fill="#f7f7f7" stroke="#231815" stroke-width="1.2"/>
<rect x="405.6" y="1608" width="14.4" height="45" fill="#f7f7f7" stroke="#231815" stroke-width="1.3"/>
<rect x="405.6" y="1608" width="14.4" height="6.4" fill="#231815"/>
<path d="M412.4,1608 V1585 Q413,1559.5 459,1558.4" stroke="#231815" fill="none" stroke-width="1.3"/>
<path d="M652.2,1665.3 H675.6 V1676.1 H670.6 V1767.2 H652.2 Z" fill="url(#phatch)" stroke="#231815" stroke-width="1.3"/>
<path d="M686.7,1657.3 H699.2 Q703,1657.5 703,1661.6 V1676.8 L705.8,1680.8 V1691.9 H720.5" stroke="#231815" fill="none" stroke-width="1.3"/>
<path d="M686.7,1665.2 H691.1 Q692.4,1665.8 692.4,1668.2 V1673.7 L689.1,1677.3 V1690.4 Q690,1694.5 693.6,1696 Q697,1697.7 700.2,1697.7 Q708,1697.5 715.4,1696.7 Q718,1695 720.5,1691.5" stroke="#231815" fill="none" stroke-width="1.3"/>
<path d="M688,1659.1 H693.1 Q697,1660.5 697.2,1665.2 L696.2,1672.7 L695.7,1677.3 L698.9,1682.3 L696.2,1686.4 V1695" stroke="#231815" fill="none" stroke-width="1.1"/>
<path d="M670.6,1761.8 H824.4 V1672.9 H791.1" stroke="#231815" fill="none" stroke-width="1.3"/>
<path d="M796.9,1656.1 H841.1 V1764" stroke="#231815" fill="none" stroke-width="1.5"/>
<polyline points="670.6,1691.48 671.6,1691.66 672.6,1691.78 673.6,1691.85 674.6,1691.88 675.6,1691.85 676.6,1691.79 677.6,1691.69 678.6,1691.57 679.6,1691.44 680.6,1691.30 681.6,1691.17 682.6,1691.05 683.6,1690.97 684.6,1690.91 685.6,1690.89 686.6,1690.91 687.6,1690.96 688.6,1691.06" stroke="#231815" fill="none" stroke-width="1.2"/>
<polyline points="720.2,1689.51 721.2,1689.70 722.2,1689.89 723.2,1690.06 724.2,1690.20 725.2,1690.32 726.2,1690.39 727.2,1690.43 728.2,1690.43 729.2,1690.39 730.2,1690.32 731.2,1690.22 732.2,1690.11 733.2,1689.99 734.2,1689.88 735.2,1689.79 736.2,1689.71 737.2,1689.68 738.2,1689.68 739.2,1689.72 740.2,1689.82 741.2,1689.96 742.2,1690.15 743.2,1690.37 744.2,1690.63 745.2,1690.91 746.2,1691.21 747.2,1691.50 748.2,1691.78 749.2,1692.04 750.2,1692.26 751.2,1692.44 752.2,1692.57 753.2,1692.65 754.2,1692.66 755.2,1692.62 756.2,1692.53 757.2,1692.38 758.2,1692.20 759.2,1691.98 760.2,1691.74 761.2,1691.49 762.2,1691.24 763.2,1691.01 764.2,1690.80 765.2,1690.61 766.2,1690.47 767.2,1690.37 768.2,1690.31 769.2,1690.29 770.2,1690.31 771.2,1690.36 772.2,1690.44 773.2,1690.53 774.2,1690.63 775.2,1690.73 776.2,1690.81 777.2,1690.87 778.2,1690.89 779.2,1690.88 780.2,1690.83 781.2,1690.73 782.2,1690.59 783.2,1690.42 784.2,1690.21 785.2,1689.98 786.2,1689.73 787.2,1689.49 788.2,1689.25 789.2,1689.03 790.2,1688.84 791.2,1688.69 792.2,1688.59 793.2,1688.54 794.2,1688.55 795.2,1688.62 796.2,1688.75 797.2,1688.92 798.2,1689.14 799.2,1689.40 800.2,1689.68 801.2,1689.97 802.2,1690.26 803.2,1690.55 804.2,1690.81 805.2,1691.04 806.2,1691.24 807.2,1691.38 808.2,1691.49 809.2,1691.54 810.2,1691.55 811.2,1691.51 812.2,1691.45 813.2,1691.35 814.2,1691.24 815.2,1691.12 816.2,1691.01 817.2,1690.91 818.2,1690.84 819.2,1690.79 820.2,1690.78 821.2,1690.81 822.2,1690.88 823.2,1690.98 824.2,1691.12" stroke="#231815" fill="none" stroke-width="1.2"/>
<line x1="671.0" y1="1698.2" x2="677.5" y2="1698.2" stroke="#231815" stroke-width="1.2"/>
<line x1="699.9" y1="1698.2" x2="706.4" y2="1698.2" stroke="#231815" stroke-width="1.2"/>
<line x1="728.8" y1="1698.2" x2="735.3" y2="1698.2" stroke="#231815" stroke-width="1.2"/>
<line x1="757.7" y1="1698.2" x2="764.2" y2="1698.2" stroke="#231815" stroke-width="1.2"/>
<line x1="815.5" y1="1698.2" x2="822.0" y2="1698.2" stroke="#231815" stroke-width="1.2"/>
<line x1="684.4" y1="1705.6" x2="690.9" y2="1705.6" stroke="#231815" stroke-width="1.2"/>
<line x1="713.3" y1="1705.6" x2="719.8" y2="1705.6" stroke="#231815" stroke-width="1.2"/>
<line x1="742.2" y1="1705.6" x2="748.7" y2="1705.6" stroke="#231815" stroke-width="1.2"/>
<line x1="771.1" y1="1705.6" x2="777.6" y2="1705.6" stroke="#231815" stroke-width="1.2"/>
<line x1="800.0" y1="1705.6" x2="806.5" y2="1705.6" stroke="#231815" stroke-width="1.2"/>
<line x1="671.0" y1="1712.7" x2="677.5" y2="1712.7" stroke="#231815" stroke-width="1.2"/>
<line x1="699.9" y1="1712.7" x2="706.4" y2="1712.7" stroke="#231815" stroke-width="1.2"/>
<line x1="728.8" y1="1712.7" x2="735.3" y2="1712.7" stroke="#231815" stroke-width="1.2"/>
<line x1="757.7" y1="1712.7" x2="764.2" y2="1712.7" stroke="#231815" stroke-width="1.2"/>
<line x1="815.5" y1="1712.7" x2="822.0" y2="1712.7" stroke="#231815" stroke-width="1.2"/>
<line x1="684.4" y1="1720" x2="690.9" y2="1720" stroke="#231815" stroke-width="1.2"/>
<line x1="713.3" y1="1720" x2="719.8" y2="1720" stroke="#231815" stroke-width="1.2"/>
<line x1="742.2" y1="1720" x2="748.7" y2="1720" stroke="#231815" stroke-width="1.2"/>
<line x1="771.1" y1="1720" x2="777.6" y2="1720" stroke="#231815" stroke-width="1.2"/>
<line x1="800.0" y1="1720" x2="806.5" y2="1720" stroke="#231815" stroke-width="1.2"/>
<line x1="671.0" y1="1727.3" x2="677.5" y2="1727.3" stroke="#231815" stroke-width="1.2"/>
<line x1="699.9" y1="1727.3" x2="706.4" y2="1727.3" stroke="#231815" stroke-width="1.2"/>
<line x1="728.8" y1="1727.3" x2="735.3" y2="1727.3" stroke="#231815" stroke-width="1.2"/>
<line x1="757.7" y1="1727.3" x2="764.2" y2="1727.3" stroke="#231815" stroke-width="1.2"/>
<line x1="815.5" y1="1727.3" x2="822.0" y2="1727.3" stroke="#231815" stroke-width="1.2"/>
<line x1="684.4" y1="1734.4" x2="690.9" y2="1734.4" stroke="#231815" stroke-width="1.2"/>
<line x1="713.3" y1="1734.4" x2="719.8" y2="1734.4" stroke="#231815" stroke-width="1.2"/>
<line x1="742.2" y1="1734.4" x2="748.7" y2="1734.4" stroke="#231815" stroke-width="1.2"/>
<line x1="771.1" y1="1734.4" x2="777.6" y2="1734.4" stroke="#231815" stroke-width="1.2"/>
<line x1="800.0" y1="1734.4" x2="806.5" y2="1734.4" stroke="#231815" stroke-width="1.2"/>
<line x1="671.0" y1="1741.8" x2="677.5" y2="1741.8" stroke="#231815" stroke-width="1.2"/>
<line x1="699.9" y1="1741.8" x2="706.4" y2="1741.8" stroke="#231815" stroke-width="1.2"/>
<line x1="728.8" y1="1741.8" x2="735.3" y2="1741.8" stroke="#231815" stroke-width="1.2"/>
<line x1="757.7" y1="1741.8" x2="764.2" y2="1741.8" stroke="#231815" stroke-width="1.2"/>
<line x1="815.5" y1="1741.8" x2="822.0" y2="1741.8" stroke="#231815" stroke-width="1.2"/>
<line x1="684.4" y1="1748.9" x2="690.9" y2="1748.9" stroke="#231815" stroke-width="1.2"/>
<line x1="713.3" y1="1748.9" x2="719.8" y2="1748.9" stroke="#231815" stroke-width="1.2"/>
<line x1="742.2" y1="1748.9" x2="748.7" y2="1748.9" stroke="#231815" stroke-width="1.2"/>
<line x1="771.1" y1="1748.9" x2="777.6" y2="1748.9" stroke="#231815" stroke-width="1.2"/>
<line x1="800.0" y1="1748.9" x2="806.5" y2="1748.9" stroke="#231815" stroke-width="1.2"/>
<line x1="671.0" y1="1756" x2="677.5" y2="1756" stroke="#231815" stroke-width="1.2"/>
<line x1="699.9" y1="1756" x2="706.4" y2="1756" stroke="#231815" stroke-width="1.2"/>
<line x1="728.8" y1="1756" x2="735.3" y2="1756" stroke="#231815" stroke-width="1.2"/>
<line x1="757.7" y1="1756" x2="764.2" y2="1756" stroke="#231815" stroke-width="1.2"/>
<line x1="815.5" y1="1756" x2="822.0" y2="1756" stroke="#231815" stroke-width="1.2"/>
<path d="M778.4,1620.8 V1737.5 M790.6,1620.8 V1737.5" stroke="#231815" fill="none" stroke-width="1.4"/>
<path d="M785.1,1630.4 V1703" stroke="#231815" fill="none" stroke-width="1.2"/>
<path d="M778.4,1630.4 H790.6 M778.4,1703.3 H790.6" stroke="#231815" fill="none" stroke-width="1.2"/>
<path d="M779.8,1737.5 V1745.5 Q779.8,1749 783,1749 H786.2 Q789.2,1749 789.2,1745.5 V1737.5 Z" fill="#f7f7f7" stroke="#231815" stroke-width="1.3"/>
<rect x="782.2" y="1740.5" width="4.2" height="4.2" fill="#f7f7f7" stroke="#231815" stroke-width="1"/>
<path d="M775.7,1620.8 V1613 Q775.7,1607.1 781.7,1607.1 H799 Q805,1607.1 805,1613 V1618.5 Q805,1620.8 802.5,1620.8 Z" fill="#f7f7f7" stroke="#231815" stroke-width="1.4"/>
<rect x="794.8" y="1622.3" width="5.6" height="5" fill="#f7f7f7" stroke="#231815" stroke-width="1.2"/>
<path d="M797.9,1627.3 Q797.5,1636.5 804,1636 Q815,1634.5 830,1622 Q846,1610.5 857,1619.7" stroke="#231815" fill="none" stroke-width="1.2"/>
<rect x="772.6" y="1642" width="23.8" height="12.1" rx="1.5" fill="#f7f7f7" stroke="#231815" stroke-width="1.3"/>
<rect x="772.3" y="1642.4" width="5.8" height="11.3" rx="1.5" fill="#231815"/>
<path d="M110.5,1541.3 V1561 H204.5 Z" fill="#f7f7f7" stroke="#231815" stroke-width="1.4" stroke-linejoin="round"/>
<g transform="translate(108.2,1530.2) rotate(13.4)"><rect x="0" y="-5.2" width="100.5" height="10.4" rx="2.5" fill="#f7f7f7" stroke="#231815" stroke-width="1.3"/><line x1="2" y1="2.2" x2="100.5" y2="2.2" stroke="#231815" stroke-width="1.1"/><rect x="50.5" y="-6" width="10.5" height="12" fill="#f7f7f7" stroke="#231815" stroke-width="1.2"/><path d="M61,-4.2 H100 M61,2.2 H100" stroke="#231815" fill="none" stroke-width="1.1"/><path d="M80,-4.5 V5 M80,-4.5 Q81,-7.2 86,-6.8 L92,-4.8" stroke="#231815" fill="none" stroke-width="1.1"/><rect x="100.5" y="-5.4" width="11.5" height="10.8" fill="#231815"/></g>
<path d="M107.8,1528.6 Q92,1524 79,1528 Q74.5,1529 76,1520 Q80,1503 79.5,1495 Q77,1483 66.5,1476.7" stroke="#231815" fill="none" stroke-width="1.1"/>
<path d="M585.5,1447 V1544.6 H700.3 V1447 M592.3,1449 V1544.6 M693.8,1449 V1544.6" stroke="#231815" fill="none" stroke-width="1.4"/>
<ellipse cx="643.2" cy="1469.5" rx="51" ry="7.3" stroke="#231815" fill="none" stroke-width="1.3"/>
<path d="M638.3,1470 V1544.6 M647.6,1470 V1544.6" stroke="#231815" fill="none" stroke-width="1.3"/>
<rect x="626.3" y="1513.1" width="11.3" height="11.3" rx="2" fill="#f7f7f7" stroke="#231815" stroke-width="1.2"/>
<rect x="648.1" y="1513.1" width="9.7" height="11.3" rx="2" fill="#f7f7f7" stroke="#231815" stroke-width="1.2"/>
<path d="M569,1431 Q569,1449 632,1452.5 L632,1446 Q605,1445 590,1440 M569,1431 V1437" stroke="#231815" fill="none" stroke-width="1.3"/>
<path d="M569,1430 Q570,1420 600,1416 L643,1413 Q700,1414 716.5,1423 Q717.5,1427 716.8,1431 V1438 Q711,1445 700,1447 L698,1447" stroke="#231815" fill="none" stroke-width="1.3"/>
<path d="M569,1424 Q572,1431 600,1435 L634,1437 Q660,1437 690,1432 Q712,1428 716.5,1424" stroke="#231815" fill="none" stroke-width="1.2"/>
<path d="M574,1434 Q590,1440 622,1442 M668,1440 Q700,1436 712,1433" stroke="#231815" fill="none" stroke-width="1.1"/>
<rect x="613" y="1436" width="17.5" height="9.6" fill="#f7f7f7" stroke="#231815" stroke-width="1.2"/>
<rect x="689.5" y="1436.5" width="15.5" height="7.5" fill="#f7f7f7" stroke="#231815" stroke-width="1.2"/>
<rect x="569.1" y="1413.6" width="12.7" height="9.7" fill="#f7f7f7" stroke="#231815" stroke-width="1.2"/>
<line x1="569.1" y1="1415.1" x2="581.8000000000001" y2="1415.1" stroke="#231815" stroke-width="1.5"/>
<rect x="600" y="1405.8" width="12.7" height="9.7" fill="#f7f7f7" stroke="#231815" stroke-width="1.2"/>
<line x1="600" y1="1407.3" x2="612.7" y2="1407.3" stroke="#231815" stroke-width="1.5"/>
<rect x="669.7" y="1405.8" width="10.5" height="8.4" fill="#f7f7f7" stroke="#231815" stroke-width="1.2"/>
<line x1="669.7" y1="1407.3" x2="680.2" y2="1407.3" stroke="#231815" stroke-width="1.5"/>
<rect x="703.5" y="1413.6" width="12" height="8.5" fill="#f7f7f7" stroke="#231815" stroke-width="1.2"/>
<line x1="703.5" y1="1415.1" x2="715.5" y2="1415.1" stroke="#231815" stroke-width="1.5"/>
<path d="M598.5,1424 H611 V1431 H606 V1426.5 H598.5 Z M602,1431 H607 V1437 H602 Z" fill="#f7f7f7" stroke="#231815" stroke-width="1.1"/>
<path d="M637.6,1431 V1468 Q637.6,1471 640.5,1471 H645.2 Q648.1,1471 648.1,1468 V1431 Z" fill="#f7f7f7" stroke="#231815" stroke-width="1.2"/>
<rect x="640.8" y="1424.2" width="6.5" height="7.3" fill="#f7f7f7" stroke="#231815" stroke-width="1.1"/>
<rect x="626" y="1396.1" width="32.8" height="28.1" fill="#f7f7f7" stroke="#231815" stroke-width="1.3"/>
<path d="M624.3,1384.5 Q642.5,1380.5 660.8,1384.5 V1394.5 Q642.5,1398 624.3,1394.5 Z" fill="#f7f7f7" stroke="#231815" stroke-width="1.3"/>
<path d="M627.3,1350.6 V1383 M657.6,1350.6 V1383 M632.7,1350.6 V1383 M635.8,1350.6 V1383 M647.3,1350.6 V1383 M637,1355.5 H647.3 M637,1379.7 H647.3" stroke="#231815" fill="none" stroke-width="1.2"/>
<rect x="622.4" y="1334.2" width="41.2" height="16.4" rx="5" fill="#f7f7f7" stroke="#231815" stroke-width="1.3"/>
<path d="M620.6,1323 V1329.5 Q620.6,1333.6 625,1333.6 H660 Q664.5,1333.6 664.5,1329.5 V1323" fill="#f7f7f7" stroke="#231815" stroke-width="1.3"/>
<ellipse cx="642.5" cy="1323" rx="22" ry="4.6" fill="#f7f7f7" stroke="#231815" stroke-width="1.3"/>
<path d="M658.8,1417.8 H667.9 V1509 Q667.9,1512 663.4,1515 Q658.8,1512 658.8,1509 Z" fill="#231815"/>
<circle cx="663.4" cy="1424.4" r="1" fill="#fff"/>
<path d="M757.2,1368.7 H663.8 V1416" stroke="#231815" fill="none" stroke-width="1.4" stroke-dasharray="7.3,10"/>
<path d="M769.5,1351.2 H881" stroke="#231815" fill="none" stroke-width="1.4" stroke-dasharray="7.8,9.7"/>
<path d="M760.8,1321.5 V1319.5 Q760.8,1317.3 763.4,1317.3 Q766.2,1317.3 766.2,1319.5 V1321.5 H767.8 Q769.9,1321.5 769.9,1324 V1336 Q769.9,1338 768.3,1338.5 V1411.5 L763,1417.3 L757.8,1411.5 V1338.5 Q756.2,1338 756.2,1336 V1324 Q756.2,1321.5 758.3,1321.5 Z" fill="#231815"/>
<circle cx="763.9" cy="1327.8" r="1.1" fill="#fff"/>
<path d="M868.3,1393.9 V1512 Q868.3,1516.8 873,1516.8 H915 Q919.8,1516.8 919.8,1512 V1393.9" fill="#f7f7f7" stroke="#231815" stroke-width="1.4"/>
<path d="M863.9,1360 H922.8 V1393.9 H919.4 V1412.8 Q910,1412 902.8,1406.7 H886.1 Q876,1403 873.9,1393.9 H863.9 Z" fill="#231815"/>
<rect x="883.7" y="1375" width="2.2" height="25" rx="1.1" fill="#f7f7f7"/>
<rect x="903.9" y="1362.2" width="3.3" height="42.8" rx="1.6" fill="#f7f7f7"/>
<rect x="881.1" y="1345" width="12.8" height="15.5" rx="1" fill="#231815"/>
<rect x="884.1" y="1335.3" width="4.8" height="10" fill="#231815"/>
<rect x="884" y="1351" width="7.2" height="2.8" fill="#f7f7f7"/><ellipse cx="887.5" cy="1357.4" rx="2.5" ry="1.1" fill="#f7f7f7"/>
<rect x="901.1" y="1325.3" width="12.2" height="35" rx="1.2" fill="#231815"/>
<rect x="898.3" y="1335.5" width="17.6" height="6" rx="3" fill="#231815"/>
<rect x="903.9" y="1306.9" width="5" height="18.6" fill="#231815"/>
<rect x="904.5" y="1329.8" width="5.5" height="4" fill="#f7f7f7"/><rect x="903.3" y="1338.2" width="7.5" height="1.2" fill="#f7f7f7"/>
<rect x="904" y="1350" width="6" height="5.5" fill="#f7f7f7"/><rect x="904" y="1358.8" width="6" height="1" fill="#f7f7f7"/>
<rect x="919.6" y="1408.3" width="4.4" height="19.5" fill="#f7f7f7" stroke="#231815" stroke-width="1.1"/>
<rect x="924" y="1414.4" width="16" height="9.5" fill="#f7f7f7" stroke="#231815" stroke-width="1.2"/>
<rect x="940" y="1413.9" width="11.7" height="10.5" rx="1.5" fill="#231815"/>
<rect x="882.7" y="1516.8" width="22.7" height="8" fill="#f7f7f7" stroke="#231815" stroke-width="1.2"/>
<path d="M888,1516.8 V1524.8 M900,1516.8 V1524.8" stroke="#231815" fill="none" stroke-width="1.1"/>
<path d="M887.7,1524.8 V1548 Q887.7,1550.1 890,1550.1 H897.3 Q899.6,1550.1 899.6,1548 V1524.8" fill="#f7f7f7" stroke="#231815" stroke-width="1.2"/>
<rect x="887.7" y="1539.5" width="11.9" height="8" fill="#231815"/>
<path d="M888.4,1547.5 V1549 Q888.4,1550.6 890.2,1550.6 H897.1 Q898.9,1550.6 898.9,1549 V1547.5" fill="#f7f7f7" stroke="#231815" stroke-width="1.2"/>
<path d="M892,1525 V1540 M895.5,1525 V1540" stroke="#231815" fill="none" stroke-width="1"/>
<circle cx="38" cy="1588.7" r="6.9" fill="#231815"/>
</svg>
<div class="t" id="m0" style="left:339.0px;top:489.5px;font-size:23px;color:#433d3c;">插板一</div>
<div class="t" id="m1" style="left:416.0px;top:489.5px;font-size:23px;color:#433d3c;">插板二</div>
<div class="t" id="m2" style="left:633.0px;top:489.25px;font-size:23px;color:#433d3c;">电源板</div>
<div class="t" id="m3" style="left:396.5px;top:42.5px;font-size:49px;color:#111;-webkit-text-stroke:0.6px #111;">仪表接线</div>
<div class="t" id="m4" style="left:416.0px;top:95.0px;font-size:20px;color:#333;letter-spacing:0.55px;">Instrument wiring</div>
<div class="t" id="m5" style="left:52.0px;top:171.5px;font-size:24.7px;color:#111;-webkit-text-stroke:0.25px #111;">仪表接线图：</div>
<div class="t c" style="left:82.4px;width:81.2px;top:736.8px;font-size:19.2px;color:#111;-webkit-text-stroke:0.25px #111;">12V+</div>
<div class="t c" style="left:82.4px;width:81.2px;top:775.9px;font-size:19.2px;color:#111;-webkit-text-stroke:0.25px #111;">12V-</div>
<div class="t c" style="left:82.4px;width:81.2px;top:815.0px;font-size:19.2px;color:#111;-webkit-text-stroke:0.25px #111;">A</div>
<div class="t c" style="left:82.4px;width:81.2px;top:852.3px;font-size:19.2px;color:#111;-webkit-text-stroke:0.25px #111;">B</div>
<div class="t c" style="left:82.4px;width:81.2px;top:889.8px;font-size:19.2px;color:#111;-webkit-text-stroke:0.25px #111;">RS485A</div>
<div class="t c" style="left:82.4px;width:81.2px;top:927.0px;font-size:19.2px;color:#111;-webkit-text-stroke:0.25px #111;">RS485B</div>
<div class="t c" style="left:82.4px;width:81.2px;top:964.0px;font-size:19.2px;color:#111;-webkit-text-stroke:0.25px #111;">Out1+</div>
<div class="t c" style="left:82.4px;width:81.2px;top:1001.2px;font-size:19.2px;color:#111;-webkit-text-stroke:0.25px #111;">Out1-</div>
<div class="t c" style="left:82.4px;width:81.2px;top:1038.8px;font-size:19.2px;color:#111;-webkit-text-stroke:0.25px #111;">Out2+</div>
<div class="t c" style="left:82.4px;width:81.2px;top:1075.5px;font-size:19.2px;color:#111;-webkit-text-stroke:0.25px #111;">Out2-</div>
<div class="t c" style="left:425.5px;width:81.1px;top:738.1px;font-size:19.2px;color:#111;-webkit-text-stroke:0.25px #111;">pH+</div>
<div class="t c" style="left:425.5px;width:81.1px;top:815.7px;font-size:19.2px;color:#111;-webkit-text-stroke:0.25px #111;">Ref</div>
<div class="t c" style="left:425.5px;width:81.1px;top:853.1px;font-size:19.2px;color:#111;-webkit-text-stroke:0.25px #111;">Shield</div>
<div class="t c" style="left:425.5px;width:81.1px;top:890.4px;font-size:19.2px;color:#111;-webkit-text-stroke:0.25px #111;">Temp1</div>
<div class="t c" style="left:425.5px;width:81.1px;top:927.5px;font-size:19.2px;color:#111;-webkit-text-stroke:0.25px #111;">Temp2</div>
<div class="t c" style="left:425.5px;width:81.1px;top:964.7px;font-size:19.2px;color:#111;-webkit-text-stroke:0.25px #111;">Out1+</div>
<div class="t c" style="left:425.5px;width:81.1px;top:1001.8px;font-size:19.2px;color:#111;-webkit-text-stroke:0.25px #111;">Out1-</div>
<div class="t c" style="left:425.5px;width:81.1px;top:1039.3px;font-size:19.2px;color:#111;-webkit-text-stroke:0.25px #111;">Out2+</div>
<div class="t c" style="left:425.5px;width:81.1px;top:1076.4px;font-size:19.2px;color:#111;-webkit-text-stroke:0.25px #111;">Out2-</div>
<div class="t" id="m6" style="left:44.5px;top:686.5px;font-size:23.5px;color:#2a2a2a;">插板一：</div>
<div class="t" id="m7" style="left:388.5px;top:686.75px;font-size:23.5px;color:#2a2a2a;">插板二：</div>
<div class="t" id="m8" style="left:708.0px;top:686.25px;font-size:23px;color:#2a2a2a;">电源板：</div>
<div class="t" id="m9" style="left:216.8px;top:736.48px;font-size:23px;color:#231815;">电极供电</div>
<div class="t" id="m10" style="left:216.8px;top:774.68px;font-size:23px;color:#231815;">电极供电</div>
<div class="t" id="m11" style="left:311.7px;top:812.99px;font-size:19.17px;color:#231815;font-family:'Liberation Mono',monospace;transform:scaleY(1.202);transform-origin:0 0;-webkit-text-stroke:0.3px #231815;">A</div>
<div class="t" id="m12" style="left:216.3px;top:812.23px;font-size:23px;color:#231815;">电极通讯</div>
<div class="t" id="m13" style="left:216.3px;top:849.13px;font-size:23px;color:#231815;">电极通讯</div>
<div class="t" id="m14" style="left:311.1px;top:850.39px;font-size:19.17px;color:#231815;font-family:'Liberation Mono',monospace;transform:scaleY(1.202);transform-origin:0 0;-webkit-text-stroke:0.3px #231815;">B</div>
<div class="t" id="m15" style="left:218.3px;top:907.92px;font-size:18.83px;color:#231815;font-family:'Liberation Mono',monospace;transform:scaleY(1.215);transform-origin:0 0;-webkit-text-stroke:0.3px #231815;">RS485</div>
<div class="t" id="m16" style="left:276.4px;top:907.38px;font-size:23px;color:#231815;">输出</div>
<div class="t" id="m17" style="left:219.1px;top:980.63px;font-size:23px;color:#231815;">变送输出</div>
<div class="t" id="m18" style="left:218.3px;top:1056.88px;font-size:23px;color:#231815;">变送输出</div>
<div class="t" id="m19" style="left:311.1px;top:1056.23px;font-size:18.67px;color:#231815;font-family:'Liberation Mono',monospace;transform:scaleY(1.331);transform-origin:0 0;-webkit-text-stroke:0.3px #231815;">2</div>
<div class="t" id="m20" style="left:185.9px;top:881.56px;font-size:16.67px;color:#231815;font-family:'Liberation Mono',monospace;transform:scaleY(1.091);transform-origin:0 0;-webkit-text-stroke:0.3px #231815;">A</div>
<div class="t" id="m21" style="left:184.9px;top:934.85px;font-size:16.67px;color:#231815;font-family:'Liberation Mono',monospace;transform:scaleY(1.245);transform-origin:0 0;-webkit-text-stroke:0.3px #231815;">B</div>
<div class="t" id="m22" style="left:560.5px;top:734.8px;font-size:21.4px;color:#231815;transform:scaleX(0.84);transform-origin:0 0;-webkit-text-stroke:0.3px #231815;">pH</div>
<div class="t" id="m23" style="left:560.5px;top:807.18px;font-size:23px;color:#231815;">参比</div>
<div class="t" id="m24" style="left:559.9px;top:850.83px;font-size:23px;color:#231815;">电极地</div>
<div class="t" id="m25" style="left:560.5px;top:889.88px;font-size:23px;color:#231815;">温补</div>
<div class="t" id="m26" style="left:560.5px;top:925.58px;font-size:23px;color:#231815;">温补</div>
<div class="t" id="m27" style="left:560.7px;top:980.63px;font-size:23px;color:#231815;">变送输出</div>
<div class="t" id="m28" style="left:560.7px;top:1057.08px;font-size:23px;color:#231815;">变送输出</div>
<div class="t" id="m29" style="left:652.8px;top:1057.63px;font-size:18.67px;color:#231815;font-family:'Liberation Mono',monospace;transform:scaleY(1.331);transform-origin:0 0;-webkit-text-stroke:0.3px #231815;">2</div>
<div class="t c" style="left:777.6px;width:29.3px;top:741.2px;font-size:18px;color:#231815;-webkit-text-stroke:0.2px #231815;">1</div>
<div class="t c" style="left:777.6px;width:29.3px;top:774.1px;font-size:18px;color:#231815;-webkit-text-stroke:0.2px #231815;">2</div>
<div class="t c" style="left:777.6px;width:29.3px;top:807.0px;font-size:18px;color:#231815;-webkit-text-stroke:0.2px #231815;">3</div>
<div class="t c" style="left:777.6px;width:29.3px;top:839.9px;font-size:18px;color:#231815;-webkit-text-stroke:0.2px #231815;">4</div>
<div class="t c" style="left:777.6px;width:29.3px;top:872.8px;font-size:18px;color:#231815;-webkit-text-stroke:0.2px #231815;">5</div>
<div class="t c" style="left:777.6px;width:29.3px;top:905.7px;font-size:18px;color:#231815;-webkit-text-stroke:0.2px #231815;">6</div>
<div class="t c" style="left:777.6px;width:29.3px;top:938.6px;font-size:18px;color:#231815;-webkit-text-stroke:0.2px #231815;">7</div>
<div class="t c" style="left:777.6px;width:29.3px;top:971.5px;font-size:18px;color:#231815;-webkit-text-stroke:0.2px #231815;">8</div>
<div class="t c" style="left:777.6px;width:29.3px;top:1004.4px;font-size:18px;color:#231815;-webkit-text-stroke:0.2px #231815;">9</div>
<div class="t" id="m30" style="left:811.5px;top:728.83px;font-size:18.5px;color:#231815;font-family:'Liberation Mono',monospace;transform:scaleY(1.155);transform-origin:0 0;-webkit-text-stroke:0.3px #231815;">GND</div>
<div class="t" id="m31" style="left:822.3px;top:760.13px;font-size:18.5px;color:#231815;font-family:'Liberation Mono',monospace;transform:scaleY(1.155);transform-origin:0 0;-webkit-text-stroke:0.3px #231815;">L</div>
<div class="t" id="m32" style="left:822.7px;top:820.28px;font-size:18.5px;color:#231815;font-family:'Liberation Mono',monospace;transform:scaleY(1.196);transform-origin:0 0;-webkit-text-stroke:0.3px #231815;">N</div>
<div class="t" id="m33" style="left:884.9px;top:779.53px;font-size:19.0px;color:#231815;font-family:'Liberation Mono',monospace;transform:scaleY(1.124);transform-origin:0 0;-webkit-text-stroke:0.3px #231815;">AC/DC</div>
<div class="t" id="m34" style="left:862.0px;top:803.1px;font-size:19.0px;color:#231815;font-family:'Liberation Mono',monospace;transform:scaleY(1.132);transform-origin:0 0;-webkit-text-stroke:0.3px #231815;">100</div>
<div class="t" style="left:897.2px;top:800.5px;font-size:22.8px;color:#231815;">～</div>
<div class="t" id="m35" style="left:918.6px;top:803.1px;font-size:19.0px;color:#231815;font-family:'Liberation Mono',monospace;transform:scaleY(1.132);transform-origin:0 0;-webkit-text-stroke:0.3px #231815;">240V</div>
<div class="t" id="m36" style="left:814.0px;top:855.33px;font-size:18.5px;color:#231815;font-family:'Liberation Mono',monospace;transform:scaleY(1.261);transform-origin:0 0;-webkit-text-stroke:0.3px #231815;">NO</div>
<div class="t" id="m37" style="left:861.3px;top:854.33px;font-size:19.0px;color:#231815;font-family:'Liberation Mono',monospace;transform:scaleY(1.228);transform-origin:0 0;-webkit-text-stroke:0.3px #231815;">AL2</div>
<div class="t" id="m38" style="left:814.0px;top:920.63px;font-size:18.5px;color:#231815;font-family:'Liberation Mono',monospace;transform:scaleY(1.261);transform-origin:0 0;-webkit-text-stroke:0.3px #231815;">NO</div>
<div class="t" id="m39" style="left:861.3px;top:919.63px;font-size:19.0px;color:#231815;font-family:'Liberation Mono',monospace;transform:scaleY(1.228);transform-origin:0 0;-webkit-text-stroke:0.3px #231815;">AL1</div>
<div class="t" id="m40" style="left:814.8px;top:986.12px;font-size:18.5px;color:#231815;font-family:'Liberation Mono',monospace;transform:scaleY(1.237);transform-origin:0 0;-webkit-text-stroke:0.3px #231815;">NO</div>
<div class="t" id="m41" style="left:860.3px;top:983.28px;font-size:23px;color:#231815;">清洗</div>
<div class="t" id="m42" style="left:33.4px;top:1148.05px;font-size:23px;color:#121212;letter-spacing:0.6px;-webkit-text-stroke:0.2px #121212;">备注：1、插板一接收数字电极信号（485通讯）</div>
<div class="t" style="left:534px;top:1148.8px;font-size:23px;color:#121212;-webkit-text-stroke:0.2px #121212;">，</div>
<div class="t" id="m43" style="left:557.0px;top:1147.55px;font-size:23px;color:#121212;letter-spacing:0.55px;-webkit-text-stroke:0.2px #121212;">插板二接收模拟电极信号；</div>
<div class="t" id="m44" style="left:102.2px;top:1184.55px;font-size:23px;color:#121212;letter-spacing:0.6px;-webkit-text-stroke:0.2px #121212;">2、每块输入板上的2组变送输出分别对应两种输入的电极；</div>
<div class="t" id="m45" style="left:102.2px;top:1221.3px;font-size:23px;color:#121212;letter-spacing:0.6px;-webkit-text-stroke:0.2px #121212;">3、两种电极可根据仪表参数设置选择显示、记录（两种电极不可同时显示、记录）</div>
<div class="t" id="m46" style="left:47.0px;top:1282.3px;font-size:24.5px;color:#111;-webkit-text-stroke:0.25px #111;">电极安装：</div>
<div class="t" id="m47" style="left:375.9px;top:1382.45px;font-size:20.8px;color:#433d3c;">②顶部法兰式安装</div>
<div class="t" id="m48" style="left:97.2px;top:1488.4px;font-size:20.6px;color:#433d3c;">①侧壁安装</div>
<div class="t" id="m49" style="left:438.5px;top:1616.8px;font-size:20.8px;color:#433d3c;">③管道安装</div>
<div class="t" id="m50" style="left:773.9px;top:1577.5px;font-size:20.8px;color:#433d3c;">⑤沉入式安装</div>
<div class="t" id="m51" style="left:677.5px;top:1317.75px;font-size:20.6px;color:#433d3c;">④顶部</div>
<div class="t" id="m52" style="left:678.5px;top:1344.1px;font-size:20.6px;color:#433d3c;">式安装</div>
<div class="t" id="m53" style="left:829.0px;top:1367.75px;font-size:20.6px;color:#433d3c;">⑥</div>
<div class="t" id="m54" style="left:827.8px;top:1393.55px;font-size:20.6px;color:#433d3c;">流</div>
<div class="t" id="m55" style="left:827.8px;top:1419.25px;font-size:20.6px;color:#433d3c;">通</div>
<div class="t" id="m56" style="left:827.8px;top:1444.8px;font-size:20.6px;color:#433d3c;">式</div>
<div class="t" id="m57" style="left:827.8px;top:1469.5px;font-size:20.6px;color:#433d3c;">安</div>
<div class="t" id="m58" style="left:827.8px;top:1494.55px;font-size:20.6px;color:#433d3c;">装</div>
<div class="t" id="m59" style="left:74.3px;top:1535.5px;font-size:20px;color:#1a1a1a;-webkit-text-stroke:0.35px #1a1a1a;">15°</div>
<div class="t" id="m60" style="left:45.9px;top:1579.9px;font-size:18px;color:#433d3c;">接口一定要成15度</div>
<div class="t" id="m61" style="left:28.0px;top:1602.3px;font-size:18px;color:#433d3c;">的斜角，否则会影响</div>
<div class="t" id="m62" style="left:28.0px;top:1625.1px;font-size:18px;color:#433d3c;">电极的正常测试及使</div>
<div class="t" id="m63" style="left:29.0px;top:1646.9px;font-size:18px;color:#433d3c;">用。造成的后果我公</div>
<div class="t" id="m64" style="left:28.0px;top:1669.7px;font-size:18px;color:#433d3c;">司概不负责。</div>
</body></html>
